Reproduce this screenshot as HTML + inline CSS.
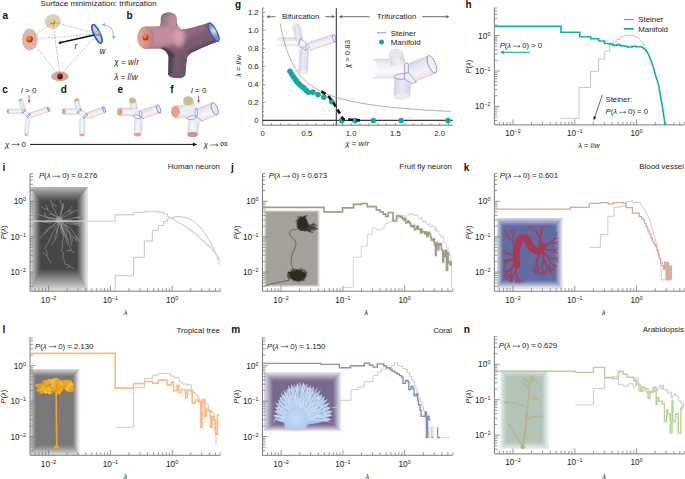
<!DOCTYPE html>
<html><head><meta charset="utf-8"><style>
html,body{margin:0;padding:0;background:#fff;width:685px;height:479px;overflow:hidden}
svg{display:block}
text{font-family:"Liberation Sans",sans-serif}
</style></head><body>
<svg xmlns="http://www.w3.org/2000/svg" width="685" height="479" viewBox="0 0 685 479">
<defs><radialGradient id="q1" gradientUnits="userSpaceOnUse" cx="52.2" cy="21" r="3"><stop offset="0" stop-color="#fff27a"/><stop offset="0.5" stop-color="#f2c21c"/><stop offset="1" stop-color="#c87814"/></radialGradient><radialGradient id="q2" gradientUnits="userSpaceOnUse" cx="28.8" cy="38.3" r="3.8"><stop offset="0" stop-color="#ffa040"/><stop offset="0.55" stop-color="#e6601a"/><stop offset="1" stop-color="#a83208"/></radialGradient><radialGradient id="q3" gradientUnits="userSpaceOnUse" cx="59.3" cy="75.6" r="3.2"><stop offset="0" stop-color="#b03a2a"/><stop offset="0.6" stop-color="#7a1410"/><stop offset="1" stop-color="#4a0606"/></radialGradient><radialGradient id="q4" gradientUnits="userSpaceOnUse" cx="97.5" cy="33.5" r="4.5"><stop offset="0" stop-color="#e8d8c8"/><stop offset="0.5" stop-color="#b8c0d8"/><stop offset="1" stop-color="#9aaad0"/></radialGradient><radialGradient id="q5" gradientUnits="userSpaceOnUse" cx="97.2" cy="32.6" r="3.2"><stop offset="0" stop-color="#f0d0b0"/><stop offset="0.5" stop-color="#c0a0a8"/><stop offset="1" stop-color="#7890c8"/></radialGradient><clipPath id="bclip"><path d="M145.7 26.8 L159.5 26.6 C161 25 160.8 21 160.8 18 C160.8 14.5 164.5 12.4 168.8 12.4 C173 12.4 176.5 14.5 176.5 18 C176.5 22 177 25.5 180 28.5 C184 30.5 192 28 208.6 22.8 L218.5 41.2 C210 44 199 49 191 53 C187.5 55.5 186.8 58 186.6 61 L185.2 75.4 C183 78.8 171 79.2 168.2 74.8 L168.6 58 C168 53 165 49.5 160 48.6 L145.7 48.6 Z"/></clipPath><filter id="bblur" x="-20%" y="-20%" width="140%" height="140%"><feGaussianBlur stdDeviation="2.2"/></filter><filter id="bblur2" x="-20%" y="-20%" width="140%" height="140%"><feGaussianBlur stdDeviation="1.2"/></filter><linearGradient id="q6" gradientUnits="userSpaceOnUse" x1="137.7" y1="0" x2="153.8" y2="0"><stop offset="0" stop-color="#e6aa98"/><stop offset="0.5" stop-color="#d59488"/><stop offset="1" stop-color="#bc7c7e"/></linearGradient><radialGradient id="q7" gradientUnits="userSpaceOnUse" cx="144.8" cy="36.4" r="3.6"><stop offset="0" stop-color="#ff9a40"/><stop offset="0.55" stop-color="#e45a18"/><stop offset="1" stop-color="#a83008"/></radialGradient><radialGradient id="q8" gradientUnits="userSpaceOnUse" cx="214.5" cy="31" r="6"><stop offset="0" stop-color="#f0e4dc"/><stop offset="0.35" stop-color="#bcc6de"/><stop offset="1" stop-color="#8292c4"/></radialGradient><linearGradient id="q9" gradientUnits="userSpaceOnUse" x1="18.48" y1="100.38" x2="22.52" y2="99.22"><stop offset="0" stop-color="#d8d8e2"/><stop offset="0.5" stop-color="#f2f2f6"/><stop offset="1" stop-color="#d4d4de"/></linearGradient><linearGradient id="q10" gradientUnits="userSpaceOnUse" x1="7.97" y1="113.5" x2="8.03" y2="108.9"><stop offset="0" stop-color="#d9d9ea"/><stop offset="0.4" stop-color="#f5f5fa"/><stop offset="0.7" stop-color="#ededf6"/><stop offset="1" stop-color="#d4d4e8"/></linearGradient><linearGradient id="q11" gradientUnits="userSpaceOnUse" x1="29.92" y1="117.88" x2="28.48" y2="113.52"><stop offset="0" stop-color="#ece4ec"/><stop offset="0.4" stop-color="#f7f3f7"/><stop offset="1" stop-color="#e2dae6"/></linearGradient><linearGradient id="q12" gradientUnits="userSpaceOnUse" x1="26.01" y1="117.33" x2="29.79" y2="117.67"><stop offset="0" stop-color="#d9d9ea"/><stop offset="0.4" stop-color="#f5f5fa"/><stop offset="0.7" stop-color="#ededf6"/><stop offset="1" stop-color="#d4d4e8"/></linearGradient><linearGradient id="q13" gradientUnits="userSpaceOnUse" x1="22.31" y1="112.73" x2="24.89" y2="109.67"><stop offset="0" stop-color="#f6f6fa"/><stop offset="1" stop-color="#f0f0f6"/></linearGradient><linearGradient id="q14" gradientUnits="userSpaceOnUse" x1="74.05" y1="100.39" x2="78.95" y2="99.41"><stop offset="0" stop-color="#d8d8e2"/><stop offset="0.5" stop-color="#f2f2f6"/><stop offset="1" stop-color="#d4d4de"/></linearGradient><linearGradient id="q15" gradientUnits="userSpaceOnUse" x1="63.8" y1="114.5" x2="63.8" y2="108.5"><stop offset="0" stop-color="#d9d9ea"/><stop offset="0.4" stop-color="#f5f5fa"/><stop offset="0.7" stop-color="#ededf6"/><stop offset="1" stop-color="#d4d4e8"/></linearGradient><linearGradient id="q16" gradientUnits="userSpaceOnUse" x1="87.04" y1="119.11" x2="84.96" y2="113.49"><stop offset="0" stop-color="#ece4ec"/><stop offset="0.4" stop-color="#f7f3f7"/><stop offset="1" stop-color="#e2dae6"/></linearGradient><linearGradient id="q17" gradientUnits="userSpaceOnUse" x1="79.8" y1="118.54" x2="85" y2="118.66"><stop offset="0" stop-color="#d9d9ea"/><stop offset="0.4" stop-color="#f5f5fa"/><stop offset="0.7" stop-color="#ededf6"/><stop offset="1" stop-color="#d4d4e8"/></linearGradient><linearGradient id="q18" gradientUnits="userSpaceOnUse" x1="77.31" y1="113.11" x2="80.69" y2="108.89"><stop offset="0" stop-color="#f6f6fa"/><stop offset="1" stop-color="#f0f0f6"/></linearGradient><linearGradient id="q19" gradientUnits="userSpaceOnUse" x1="129.27" y1="101.18" x2="135.73" y2="99.82"><stop offset="0" stop-color="#d8d8e2"/><stop offset="0.5" stop-color="#f2f2f6"/><stop offset="1" stop-color="#d4d4de"/></linearGradient><linearGradient id="q20" gradientUnits="userSpaceOnUse" x1="119.76" y1="115.7" x2="119.84" y2="107.9"><stop offset="0" stop-color="#d9d9ea"/><stop offset="0.4" stop-color="#f5f5fa"/><stop offset="0.7" stop-color="#ededf6"/><stop offset="1" stop-color="#d4d4e8"/></linearGradient><linearGradient id="q21" gradientUnits="userSpaceOnUse" x1="134.61" y1="116.28" x2="142.59" y2="116.72"><stop offset="0" stop-color="#d9d9ea"/><stop offset="0.4" stop-color="#f5f5fa"/><stop offset="0.7" stop-color="#ededf6"/><stop offset="1" stop-color="#d4d4e8"/></linearGradient><linearGradient id="q22" gradientUnits="userSpaceOnUse" x1="143.02" y1="118.59" x2="140.38" y2="110.61"><stop offset="0" stop-color="#ece4ec"/><stop offset="0.4" stop-color="#f7f3f7"/><stop offset="1" stop-color="#e2dae6"/></linearGradient><linearGradient id="q23" gradientUnits="userSpaceOnUse" x1="183.35" y1="102.01" x2="193.05" y2="99.59"><stop offset="0" stop-color="#d8d8e2"/><stop offset="0.5" stop-color="#f2f2f6"/><stop offset="1" stop-color="#d4d4de"/></linearGradient><linearGradient id="q24" gradientUnits="userSpaceOnUse" x1="175.44" y1="118" x2="175.56" y2="105.6"><stop offset="0" stop-color="#d9d9ea"/><stop offset="0.4" stop-color="#f5f5fa"/><stop offset="0.7" stop-color="#ededf6"/><stop offset="1" stop-color="#d4d4e8"/></linearGradient><linearGradient id="q25" gradientUnits="userSpaceOnUse" x1="188.63" y1="120.43" x2="199.37" y2="121.57"><stop offset="0" stop-color="#d9d9ea"/><stop offset="0.4" stop-color="#f5f5fa"/><stop offset="0.7" stop-color="#ededf6"/><stop offset="1" stop-color="#d4d4e8"/></linearGradient><linearGradient id="q26" gradientUnits="userSpaceOnUse" x1="201.8" y1="121.21" x2="196.8" y2="108.99"><stop offset="0" stop-color="#ece4ec"/><stop offset="0.4" stop-color="#f7f3f7"/><stop offset="1" stop-color="#e2dae6"/></linearGradient><linearGradient id="q27" gradientUnits="userSpaceOnUse" x1="275.47" y1="45.8" x2="275.53" y2="37.4"><stop offset="0" stop-color="#e2e2ec"/><stop offset="0.4" stop-color="#fafafc"/><stop offset="1" stop-color="#d8d8e6"/></linearGradient><linearGradient id="q28" gradientUnits="userSpaceOnUse" x1="274" y1="0" x2="283" y2="0"><stop offset="0" stop-color="#ffffff" stop-opacity="1"/><stop offset="1" stop-color="#ffffff" stop-opacity="0"/></linearGradient><linearGradient id="q29" gradientUnits="userSpaceOnUse" x1="292.87" y1="26.29" x2="299.73" y2="24.91"><stop offset="0" stop-color="#d6d6de"/><stop offset="0.5" stop-color="#eeeef2"/><stop offset="1" stop-color="#d2d2dc"/></linearGradient><linearGradient id="q30" gradientUnits="userSpaceOnUse" x1="299.9" y1="48.79" x2="308.7" y2="49.21"><stop offset="0" stop-color="#cfcfe4"/><stop offset="0.45" stop-color="#ececf6"/><stop offset="1" stop-color="#d6d6e8"/></linearGradient><linearGradient id="q31" gradientUnits="userSpaceOnUse" x1="309.73" y1="50.5" x2="307.27" y2="43.1"><stop offset="0" stop-color="#e6e6ee"/><stop offset="0.4" stop-color="#f6f6fa"/><stop offset="1" stop-color="#dcdce8"/></linearGradient><linearGradient id="q32" gradientUnits="userSpaceOnUse" x1="372" y1="78.3" x2="372" y2="59.1"><stop offset="0" stop-color="#e4e4ee"/><stop offset="0.35" stop-color="#fbfbfd"/><stop offset="0.7" stop-color="#f0f0f6"/><stop offset="1" stop-color="#dedeea"/></linearGradient><linearGradient id="q33" gradientUnits="userSpaceOnUse" x1="388.73" y1="55" x2="402.27" y2="51.4"><stop offset="0" stop-color="#dcdce4"/><stop offset="0.5" stop-color="#f2f2f6"/><stop offset="1" stop-color="#d6d6e0"/></linearGradient><linearGradient id="q34" gradientUnits="userSpaceOnUse" x1="394.6" y1="78.73" x2="410.6" y2="79.27"><stop offset="0" stop-color="#d0d0e6"/><stop offset="0.45" stop-color="#ebebf5"/><stop offset="1" stop-color="#d4d4e8"/></linearGradient><linearGradient id="q35" gradientUnits="userSpaceOnUse" x1="412.46" y1="82.24" x2="405.54" y2="64.76"><stop offset="0" stop-color="#e8e4ee"/><stop offset="0.4" stop-color="#f4f2f8"/><stop offset="1" stop-color="#ddd8e8"/></linearGradient><linearGradient id="g38_0" x1="0" y1="0" x2="0" y2="1"><stop offset="0" stop-color="#b4b4b4" stop-opacity="1"/><stop offset="1" stop-color="#464646"/></linearGradient><linearGradient id="g38_1" x1="1" y1="0" x2="0" y2="0"><stop offset="0" stop-color="#f4f4f4" stop-opacity="1"/><stop offset="1" stop-color="#464646"/></linearGradient><linearGradient id="g38_2" x1="0" y1="1" x2="0" y2="0"><stop offset="0" stop-color="#e4e4e4" stop-opacity="1"/><stop offset="1" stop-color="#464646"/></linearGradient><linearGradient id="g38_3" x1="0" y1="0" x2="1" y2="0"><stop offset="0" stop-color="#dcdcdc" stop-opacity="1"/><stop offset="1" stop-color="#464646"/></linearGradient><linearGradient id="g42_0" x1="0" y1="0" x2="0" y2="1"><stop offset="0" stop-color="#f4f4f2" stop-opacity="1"/><stop offset="1" stop-color="#a3a199"/></linearGradient><linearGradient id="g42_1" x1="1" y1="0" x2="0" y2="0"><stop offset="0" stop-color="#f4f4f2" stop-opacity="1"/><stop offset="1" stop-color="#a3a199"/></linearGradient><linearGradient id="g42_2" x1="0" y1="1" x2="0" y2="0"><stop offset="0" stop-color="#f4f4f2" stop-opacity="1"/><stop offset="1" stop-color="#a3a199"/></linearGradient><linearGradient id="g42_3" x1="0" y1="0" x2="1" y2="0"><stop offset="0" stop-color="#f4f4f2" stop-opacity="1"/><stop offset="1" stop-color="#a3a199"/></linearGradient><linearGradient id="g46_0" x1="0" y1="0" x2="0" y2="1"><stop offset="0" stop-color="#d4d8ee" stop-opacity="1"/><stop offset="1" stop-color="#606ca2"/></linearGradient><linearGradient id="g46_1" x1="1" y1="0" x2="0" y2="0"><stop offset="0" stop-color="#f6f6fc" stop-opacity="1"/><stop offset="1" stop-color="#606ca2"/></linearGradient><linearGradient id="g46_2" x1="0" y1="1" x2="0" y2="0"><stop offset="0" stop-color="#eef0f8" stop-opacity="1"/><stop offset="1" stop-color="#606ca2"/></linearGradient><linearGradient id="g46_3" x1="0" y1="0" x2="1" y2="0"><stop offset="0" stop-color="#d8dcf0" stop-opacity="1"/><stop offset="1" stop-color="#606ca2"/></linearGradient><linearGradient id="g50_0" x1="0" y1="0" x2="0" y2="1"><stop offset="0" stop-color="#cfcfcf" stop-opacity="1"/><stop offset="1" stop-color="#7a7879"/></linearGradient><linearGradient id="g50_1" x1="1" y1="0" x2="0" y2="0"><stop offset="0" stop-color="#f6f6f6" stop-opacity="1"/><stop offset="1" stop-color="#7a7879"/></linearGradient><linearGradient id="g50_2" x1="0" y1="1" x2="0" y2="0"><stop offset="0" stop-color="#e0e0e0" stop-opacity="1"/><stop offset="1" stop-color="#7a7879"/></linearGradient><linearGradient id="g50_3" x1="0" y1="0" x2="1" y2="0"><stop offset="0" stop-color="#d8d8d8" stop-opacity="1"/><stop offset="1" stop-color="#7a7879"/></linearGradient><linearGradient id="g54_0" x1="0" y1="0" x2="0" y2="1"><stop offset="0" stop-color="#e4e0ea" stop-opacity="1"/><stop offset="1" stop-color="#786a8c"/></linearGradient><linearGradient id="g54_1" x1="1" y1="0" x2="0" y2="0"><stop offset="0" stop-color="#f4f2f6" stop-opacity="1"/><stop offset="1" stop-color="#786a8c"/></linearGradient><linearGradient id="g54_2" x1="0" y1="1" x2="0" y2="0"><stop offset="0" stop-color="#eeecf2" stop-opacity="1"/><stop offset="1" stop-color="#786a8c"/></linearGradient><linearGradient id="g54_3" x1="0" y1="0" x2="1" y2="0"><stop offset="0" stop-color="#e4e0ea" stop-opacity="1"/><stop offset="1" stop-color="#786a8c"/></linearGradient><linearGradient id="g58_0" x1="0" y1="0" x2="0" y2="1"><stop offset="0" stop-color="#e2eae4" stop-opacity="1"/><stop offset="1" stop-color="#b4c4b8"/></linearGradient><linearGradient id="g58_1" x1="1" y1="0" x2="0" y2="0"><stop offset="0" stop-color="#f4f8f5" stop-opacity="1"/><stop offset="1" stop-color="#b4c4b8"/></linearGradient><linearGradient id="g58_2" x1="0" y1="1" x2="0" y2="0"><stop offset="0" stop-color="#eef2ef" stop-opacity="1"/><stop offset="1" stop-color="#b4c4b8"/></linearGradient><linearGradient id="g58_3" x1="0" y1="0" x2="1" y2="0"><stop offset="0" stop-color="#e4ece6" stop-opacity="1"/><stop offset="1" stop-color="#b4c4b8"/></linearGradient><radialGradient id="q36" gradientUnits="userSpaceOnUse" cx="59.2" cy="220" r="4.5"><stop offset="0" stop-color="#a8a8a8"/><stop offset="0.7" stop-color="#8e8e8e"/><stop offset="1" stop-color="#6a6a6a" stop-opacity="0"/></radialGradient><clipPath id="fanclip"><path d="M273.34 423.55 L275.05 421.36 L273.73 419.38 L275.7 417.52 L273.14 415.14 L278.99 414.52 L274.27 411.19 L277.57 410.43 L274.89 407.11 L278.49 407.01 L275.2 402.67 L279.2 403.38 L278.32 400.36 L279.9 399.5 L279.85 396.93 L282.31 397.34 L280.57 392.19 L285.1 396.17 L282.97 389.51 L286.66 393.18 L286.39 389.11 L288.32 389.88 L288.06 384.67 L291.34 390.22 L291.04 383.55 L293.58 388.29 L294.18 383.68 L296.27 388.76 L297.07 383.05 L298.66 385.94 L300 381.55 L301.61 386.66 L303.64 382.44 L304.97 385.95 L307.11 383.72 L307.75 388.66 L310.41 385.33 L310.94 389.21 L314.09 385.88 L313.2 392.14 L317.8 386.95 L315.74 394.1 L320.85 389.44 L318.59 395.66 L322 394.24 L321.37 397.61 L325.28 396.33 L322.65 401.09 L327.98 399.27 L323.35 404.74 L330.41 402.61 L326.29 407.01 L330.85 407.04 L327.56 410.38 L332.34 410.94 L329.64 413.67 L332.12 415.25 L326.81 417.77 L331.74 419.39 L326.5 421.18 L333.42 423.64 L328 421 L312 424 L298 426 L284 423 L274 419Z"/></clipPath><radialGradient id="q37" gradientUnits="userSpaceOnUse" cx="296" cy="418" r="12"><stop offset="0" stop-color="#c6dcf6"/><stop offset="1" stop-color="#b2cbec"/></radialGradient></defs>
<text x="40.6" y="6.2" font-size="8" fill="#222222" >Surface minimization: trifurcation</text>
<text x="2.6" y="19.2" font-size="10" fill="#111" font-weight="bold" >a</text>
<text x="126.6" y="18.8" font-size="10" fill="#111" font-weight="bold" >b</text>
<text x="2.2" y="92.6" font-size="10" fill="#111" font-weight="bold" >c</text>
<text x="60.8" y="92.6" font-size="10" fill="#111" font-weight="bold" >d</text>
<text x="117.5" y="92.6" font-size="10" fill="#111" font-weight="bold" >e</text>
<text x="170.3" y="92.6" font-size="10" fill="#111" font-weight="bold" >f</text>
<text x="235" y="8.4" font-size="10" fill="#111" font-weight="bold" >g</text>
<text x="465.6" y="7.9" font-size="10" fill="#111" font-weight="bold" >h</text>
<text x="2.6" y="170.7" font-size="10" fill="#111" font-weight="bold" >i</text>
<text x="231.1" y="170.7" font-size="10" fill="#111" font-weight="bold" >j</text>
<text x="463.8" y="171" font-size="10" fill="#111" font-weight="bold" >k</text>
<text x="2.6" y="333" font-size="10" fill="#111" font-weight="bold" >l</text>
<text x="231.3" y="333" font-size="10" fill="#111" font-weight="bold" >m</text>
<text x="463.8" y="332.6" font-size="10" fill="#111" font-weight="bold" >n</text>
<ellipse cx="52.9" cy="21.6" rx="7.9" ry="7.4" fill="#dccfb4" />
<ellipse cx="29.8" cy="39.5" rx="7.9" ry="10.9" fill="#e2b6a6" />
<ellipse cx="59.9" cy="76.4" rx="8.8" ry="4.9" fill="#d0a89c" />
<path d="M52.9 21.8L29.7 39.4M52.9 21.8L97 33.9M52.9 21.8L60 76.3M29.7 39.4L97 33.9M29.7 39.4L60 76.3M97 33.9L60 76.3" stroke="#8c8c8c" stroke-width="0.6" stroke-dasharray="1.8 1.3" fill="none"/>
<circle cx="52.9" cy="21.9" r="2.5" fill="url(#q1)"/>
<circle cx="29.6" cy="39.3" r="3.2" fill="url(#q2)"/>
<circle cx="60" cy="76.4" r="2.8" fill="url(#q3)"/>
<ellipse cx="97" cy="33.9" rx="3" ry="10.2" fill="#c8d0e4" stroke="#2f5cb0" stroke-width="1.5" transform="rotate(-25 97 33.9)" />
<circle cx="97.6" cy="33.4" r="2.7" fill="url(#q5)"/>
<path d="M59.9 42.7L94.3 35.1" stroke="#111" stroke-width="1.5"/>
<circle cx="59.9" cy="42.7" r="1.2" fill="#111"/>
<text x="74.6" y="49.4" font-size="8.2" fill="#222" font-style="italic" >r</text>
<text x="99.6" y="53.6" font-size="8.2" fill="#222" font-style="italic" >w</text>
<path d="M104 24.8 Q113.5 25.5 113.6 36.5" stroke="#86b2e0" stroke-width="0.9" fill="none"/>
<path d="M101.8 24.6 L105.2 22.8 L104.8 26.6 Z" fill="#86b2e0"/>
<path d="M113.8 39.6 L111.8 36.2 L115.6 36.3 Z" fill="#86b2e0"/>
<text x="114.2" y="65.2" font-size="8.2" fill="#222222" ><tspan font-style="italic">χ</tspan> = <tspan font-style="italic">w</tspan>/<tspan font-style="italic">r</tspan></text>
<text x="114.2" y="79.7" font-size="8.2" fill="#222222" ><tspan font-style="italic">λ</tspan> = <tspan font-style="italic">l</tspan>/<tspan font-style="italic">w</tspan></text>
<path d="M145.7 26.8 L159.5 26.6 C161 25 160.8 21 160.8 18 C160.8 14.5 164.5 12.4 168.8 12.4 C173 12.4 176.5 14.5 176.5 18 C176.5 22 177 25.5 180 28.5 C184 30.5 192 28 208.6 22.8 L218.5 41.2 C210 44 199 49 191 53 C187.5 55.5 186.8 58 186.6 61 L185.2 75.4 C183 78.8 171 79.2 168.2 74.8 L168.6 58 C168 53 165 49.5 160 48.6 L145.7 48.6 Z" fill="#7a5b72"/>
<g clip-path="url(#bclip)"><g filter="url(#bblur)"><rect x="140" y="25" width="32" height="21" fill="#c28c9a"/><rect x="140" y="46" width="24" height="4" fill="#a87888"/><path d="M160 14 L169 14 L170 27 L160 27 Z" fill="#9c7688"/><path d="M169 12 L178 14 L179 28 L169 27 Z" fill="#c0909e"/><ellipse cx="178.5" cy="37" rx="6.5" ry="10" fill="#d49eae"/><ellipse cx="168" cy="31" rx="5" ry="6" fill="#c08e9e"/><path d="M183 29 L205 23 L207 30 L186 38 Z" fill="#93688a"/><path d="M188 52 L216 40 L220 47 L192 60 Z" fill="#4a3c5a"/><path d="M164 56 L173 56 L172 80 L163 80 Z" fill="#463e56"/><path d="M180 56 L189 56 L188 80 L181 80 Z" fill="#6c5468"/></g><g filter="url(#bblur2)"><path d="M159 49.5 C164 50 168 53 171 58 L175 57 C172 52 168 49 164 47.5 Z" fill="#43344f"/></g></g>
<ellipse cx="168.8" cy="19.2" rx="5" ry="3.2" fill="#b09090" opacity="0.35"/>
<circle cx="169.5" cy="20" r="2.2" fill="#c09078" opacity="0.5"/>
<ellipse cx="176.5" cy="75.4" rx="7.5" ry="2.8" fill="#6e5468" transform="rotate(3 176.5 75.4)" opacity="0.7"/>
<circle cx="176" cy="75.4" r="1.6" fill="#8a6070" opacity="0.5"/>
<ellipse cx="145.7" cy="37.7" rx="8" ry="10.9" fill="url(#q6)" />
<ellipse cx="145.7" cy="37.7" rx="8" ry="10.9" fill="none" stroke="#b87478" stroke-width="0.6" />
<circle cx="145.5" cy="37.4" r="3" fill="url(#q7)"/>
<ellipse cx="213.6" cy="32" rx="3.1" ry="10.2" fill="url(#q8)" stroke="#2f5cb0" stroke-width="1.1" transform="rotate(-28 213.6 32)" />
<polygon points="18.48,100.38 21.58,111.08 25.62,109.92 22.52,99.22" fill="url(#q9)"/>
<path d="M18.48 100.38L21.58 111.08M22.52 99.22L25.62 109.92" stroke="#c9c9da" stroke-width="0.4" fill="none"/>
<ellipse cx="20.5" cy="99.9" rx="2.1" ry="1.4" fill="#c9bc8c" transform="rotate(-15 20.5 99.9)" />
<polygon points="7.97,113.5 22.97,113.7 23.03,109.1 8.03,108.9" fill="url(#q10)"/>
<path d="M7.97 113.5L22.97 113.7M8.03 108.9L23.03 109.1" stroke="#c9c9da" stroke-width="0.4" fill="none"/>
<ellipse cx="8" cy="111.2" rx="1.2" ry="2.3" fill="#e3a488" />
<polygon points="29.92,117.88 49.32,111.48 47.88,107.12 28.48,113.52" fill="url(#q11)"/>
<path d="M29.92 117.88L49.32 111.48M28.48 113.52L47.88 107.12" stroke="#e89a86" stroke-width="0.45" fill="none"/>
<ellipse cx="48.6" cy="109.3" rx="0.9" ry="2.3" fill="#dde2f2" stroke="#4c64bc" stroke-width="0.6" transform="rotate(-18 48.6 109.3)" />
<polygon points="26.01,117.33 24.41,134.73 28.19,135.07 29.79,117.67" fill="url(#q12)"/>
<path d="M26.01 117.33L24.41 134.73M29.79 117.67L28.19 135.07" stroke="#c9c9da" stroke-width="0.4" fill="none"/>
<ellipse cx="26.3" cy="134.9" rx="1.9" ry="0.9" fill="#e3a488" />
<polygon points="22.31,112.73 27.51,117.13 30.09,114.07 24.89,109.67" fill="url(#q13)"/>
<path d="M22.31 112.73L27.51 117.13M24.89 109.67L30.09 114.07" stroke="#e89a86" stroke-width="0.45" fill="none"/>
<ellipse cx="23.7" cy="111.3" rx="0.9" ry="2.1" fill="none" stroke="#4c64bc" stroke-width="0.6" transform="rotate(40 23.7 111.3)" />
<ellipse cx="28.6" cy="115.6" rx="0.9" ry="2.2" fill="none" stroke="#4c64bc" stroke-width="0.6" transform="rotate(40 28.6 115.6)" />
<path d="M29.1 95.5L29.1 100.9" stroke="#c8544a" stroke-width="0.9" fill="none"/>
<path d="M29.1 103.6L27.6 100.4L30.6 100.4Z" fill="#c8544a"/>
<text x="21" y="93.2" font-size="8" fill="#222222" ><tspan font-style="italic">l</tspan> &gt; 0</text>
<polygon points="74.05,100.39 76.15,110.99 81.05,110.01 78.95,99.41" fill="url(#q14)"/>
<path d="M74.05 100.39L76.15 110.99M78.95 99.41L81.05 110.01" stroke="#c9c9da" stroke-width="0.4" fill="none"/>
<ellipse cx="76.5" cy="99.9" rx="2.5" ry="1.8" fill="#c9bc8c" transform="rotate(-10 76.5 99.9)" />
<polygon points="63.8,114.5 78,114.5 78,108.5 63.8,108.5" fill="url(#q15)"/>
<path d="M63.8 114.5L78 114.5M63.8 108.5L78 108.5" stroke="#c9c9da" stroke-width="0.4" fill="none"/>
<ellipse cx="63.8" cy="111.5" rx="1.8" ry="3" fill="#e3a488" />
<polygon points="87.04,119.11 105.14,112.41 103.06,106.79 84.96,113.49" fill="url(#q16)"/>
<path d="M87.04 119.11L105.14 112.41M84.96 113.49L103.06 106.79" stroke="#e89a86" stroke-width="0.45" fill="none"/>
<ellipse cx="104.1" cy="109.6" rx="1.2" ry="3" fill="#dde2f2" stroke="#4c64bc" stroke-width="0.6" transform="rotate(-20 104.1 109.6)" />
<polygon points="79.8,118.54 79.4,134.84 84.6,134.96 85,118.66" fill="url(#q17)"/>
<path d="M79.8 118.54L79.4 134.84M85 118.66L84.6 134.96" stroke="#c9c9da" stroke-width="0.4" fill="none"/>
<ellipse cx="82" cy="134.9" rx="2.6" ry="1.2" fill="#e3a488" />
<polygon points="77.31,113.11 83.91,118.41 87.29,114.19 80.69,108.89" fill="url(#q18)"/>
<path d="M77.31 113.11L83.91 118.41M80.69 108.89L87.29 114.19" stroke="#e89a86" stroke-width="0.45" fill="none"/>
<ellipse cx="79.2" cy="111.1" rx="1" ry="2.7" fill="none" stroke="#4c64bc" stroke-width="0.6" transform="rotate(40 79.2 111.1)" />
<ellipse cx="85.4" cy="116.2" rx="1" ry="2.8" fill="none" stroke="#4c64bc" stroke-width="0.6" transform="rotate(40 85.4 116.2)" />
<polygon points="129.27,101.18 131.37,111.18 137.83,109.82 135.73,99.82" fill="url(#q19)"/>
<path d="M129.27 101.18L131.37 111.18M135.73 99.82L137.83 109.82" stroke="#c9c9da" stroke-width="0.4" fill="none"/>
<ellipse cx="132.5" cy="100.5" rx="3.3" ry="3" fill="#c9bc8c" />
<polygon points="119.76,115.7 137.46,115.9 137.54,108.1 119.84,107.9" fill="url(#q20)"/>
<path d="M119.76 115.7L137.46 115.9M119.84 107.9L137.54 108.1" stroke="#c9c9da" stroke-width="0.4" fill="none"/>
<ellipse cx="119.8" cy="111.8" rx="2.8" ry="3.9" fill="#e3a488" />
<polygon points="134.61,116.28 133.91,134.4 141.29,134.8 142.59,116.72" fill="url(#q21)"/>
<path d="M134.61 116.28L133.91 134.4M142.59 116.72L141.29 134.8" stroke="#c9c9da" stroke-width="0.4" fill="none"/>
<ellipse cx="137.6" cy="134.6" rx="3.7" ry="1.8" fill="#e3a488" />
<polygon points="143.02,118.59 159.92,112.99 157.28,105.01 140.38,110.61" fill="url(#q22)"/>
<path d="M143.02 118.59L159.92 112.99M140.38 110.61L157.28 105.01" stroke="#e89a86" stroke-width="0.45" fill="none"/>
<ellipse cx="158.6" cy="109" rx="1.8" ry="4.3" fill="#e6e8f4" stroke="#4c64bc" stroke-width="0.6" transform="rotate(-20 158.6 109)" />
<path d="M134.5 107.8 L136.4 109.5 L139.6 110.4 L144 118.6 L142.4 120.5 L134.8 120.5 L133 116 Z" fill="#ececf5"/>
<path d="M139.6 110.6 C138.6 112.5 139 116 141 117.5 C142.5 116 142.4 112 139.6 110.6 Z M133 116 C135 114.4 139.5 114.6 141 117.5 C139 119.6 134.5 118.6 133 116 Z M141 117.5 L144 118.6" fill="#f2f2f8" stroke="#4c64bc" stroke-width="0.5"/>
<polygon points="183.35,102.01 184.65,107.21 194.35,104.79 193.05,99.59" fill="url(#q23)"/>
<path d="M183.35 102.01L184.65 107.21M193.05 99.59L194.35 104.79" stroke="#c9c9da" stroke-width="0.4" fill="none"/>
<ellipse cx="188.2" cy="100.8" rx="5" ry="4.6" fill="#c9bc8c" />
<polygon points="175.44,118 195.44,118.2 195.56,105.8 175.56,105.6" fill="url(#q24)"/>
<path d="M175.44 118L195.44 118.2M175.56 105.6L195.56 105.8" stroke="#c9c9da" stroke-width="0.4" fill="none"/>
<ellipse cx="175.5" cy="111.8" rx="4.4" ry="6.1" fill="#e3a488" />
<polygon points="188.63,120.43 187.43,133.76 197.77,134.84 199.37,121.57" fill="url(#q25)"/>
<path d="M188.63 120.43L187.43 133.76M199.37 121.57L197.77 134.84" stroke="#c9c9da" stroke-width="0.4" fill="none"/>
<ellipse cx="192.6" cy="134.4" rx="5.2" ry="2.6" fill="#cd968c" />
<polygon points="201.8,121.21 217.2,114.91 212.2,102.69 196.8,108.99" fill="url(#q26)"/>
<path d="M201.8 121.21L217.2 114.91M196.8 108.99L212.2 102.69" stroke="#e89a86" stroke-width="0.45" fill="none"/>
<ellipse cx="214.7" cy="108.8" rx="2.9" ry="6.4" fill="#e4eaf4" stroke="#4c64bc" stroke-width="0.6" transform="rotate(-22 214.7 108.8)" />
<path d="M183.3 105.6 L193.6 105.4 L196.8 109 L201.8 121.2 L199.4 122.5 L188.6 120.5 L187 117.9 Z" fill="#ececf5"/>
<path d="M196.3 108 C194.6 110.5 194.6 115 196.8 116.8 C198 114.5 198 110.5 196.3 108 Z M186.7 118.5 C188.5 115.5 194.5 115 196.8 116.8 C195 119.6 189.5 120.5 186.7 118.5 Z M196.8 116.8 L202.8 121.6" fill="#f0f0f8" stroke="#4c64bc" stroke-width="0.5"/>
<path d="M198.5 95.6L198.5 100.7" stroke="#c8544a" stroke-width="0.9" fill="none"/>
<path d="M198.5 103.4L197 100.2L200 100.2Z" fill="#c8544a"/>
<text x="191" y="92.6" font-size="8" fill="#222222" ><tspan font-style="italic">l</tspan> = 0</text>
<text x="5" y="146.6" font-size="8" fill="#222222" font-style="italic" >χ</text>
<path d="M11.6 144.44H19.2M17.5 143.24L19.2 144.44L17.5 145.64" stroke="#222222" stroke-width="0.6" fill="none"/>
<text x="21.6" y="146.6" font-size="8" fill="#222222" >0</text>
<text x="203.7" y="147.2" font-size="8" fill="#222222" font-style="italic" >χ</text>
<path d="M210.3 145.04H217.9M216.2 143.84L217.9 145.04L216.2 146.24" stroke="#222222" stroke-width="0.6" fill="none"/>
<text x="220.3" y="147.2" font-size="8" fill="#222222" ><tspan font-size="10.5">∞</tspan></text>
<path d="M30.2 144.4L193.4 144.4" stroke="#111" stroke-width="1.0" fill="none"/>
<path d="M197.3 144.4L192.9 146.2L192.9 142.6Z" fill="#111"/>
<polygon points="275.47,45.8 300.47,46 300.53,37.6 275.53,37.4" fill="url(#q27)"/>
<path d="M275.47 45.8L300.47 46M275.53 37.4L300.53 37.6" stroke="#c9c9da" stroke-width="0.4" fill="none"/>
<rect x="273" y="36" width="10" height="11" fill="url(#q28)"/>
<polygon points="292.87,26.29 295.77,40.69 302.63,39.31 299.73,24.91" fill="url(#q29)"/>
<path d="M292.87 26.29L295.77 40.69M299.73 24.91L302.63 39.31" stroke="#c9c9da" stroke-width="0.4" fill="none"/>
<ellipse cx="296.3" cy="25.6" rx="3.5" ry="2.2" fill="#e4e4ea" transform="rotate(-12 296.3 25.6)" />
<polygon points="299.9,48.79 298.8,72.29 307.6,72.71 308.7,49.21" fill="url(#q30)"/>
<path d="M299.9 48.79L298.8 72.29M308.7 49.21L307.6 72.71" stroke="#c9c9da" stroke-width="0.4" fill="none"/>
<ellipse cx="303.2" cy="72.5" rx="4.4" ry="2" fill="#eeeef4" />
<polygon points="309.73,50.5 335.53,41.9 333.07,34.5 307.27,43.1" fill="url(#q31)"/>
<path d="M309.73 50.5L335.53 41.9M307.27 43.1L333.07 34.5" stroke="#e8a090" stroke-width="0.5" fill="none"/>
<ellipse cx="334.3" cy="38.2" rx="1.6" ry="4" fill="#e8e8f2" stroke="#4a62b8" stroke-width="0.5" transform="rotate(-18 334.3 38.2)" />
<path d="M300.6 38.3 L306.5 43.6 L309.4 47.2 L305.8 50.2 L300.5 47.3 L298.6 44.5 Z" fill="#f2f2f8" stroke="#5a70c0" stroke-width="0.5"/>
<path d="M300.6 38.3 L298.8 44.3 M306.5 43.6 L305.6 50.2 M300.5 47.3 L306 47" stroke="#5a70c0" stroke-width="0.45" fill="none"/>
<polygon points="372,78.3 405,78.3 405,59.1 372,59.1" fill="url(#q32)"/>
<path d="M372 78.3L405 78.3M372 59.1L405 59.1" stroke="#c9c9da" stroke-width="0.4" fill="none"/>
<ellipse cx="372" cy="68.7" rx="5.2" ry="9.6" fill="#fcfcfe" />
<polygon points="388.73,55 391.73,66.3 405.27,62.7 402.27,51.4" fill="url(#q33)"/>
<path d="M388.73 55L391.73 66.3M402.27 51.4L405.27 62.7" stroke="#c9c9da" stroke-width="0.4" fill="none"/>
<ellipse cx="395.5" cy="53.2" rx="7" ry="4.6" fill="#e6e6ec" transform="rotate(-10 395.5 53.2)" />
<polygon points="394.6,78.73 394,96.53 410,97.07 410.6,79.27" fill="url(#q34)"/>
<path d="M394.6 78.73L394 96.53M410.6 79.27L410 97.07" stroke="#c9c9da" stroke-width="0.4" fill="none"/>
<ellipse cx="402" cy="96.8" rx="8" ry="3.3" fill="#ececf4" transform="rotate(-3 402 96.8)" />
<polygon points="412.46,82.24 435.46,73.14 428.54,55.66 405.54,64.76" fill="url(#q35)"/>
<path d="M412.46 82.24L435.46 73.14M405.54 64.76L428.54 55.66" stroke="#e3a08c" stroke-width="0.5" fill="none"/>
<ellipse cx="432" cy="64.4" rx="3.6" ry="9.4" fill="#f2f0f6" stroke="#4a62b8" stroke-width="0.55" transform="rotate(-22 432 64.4)" />
<path d="M394.3 76.8 L404.6 73.5 L404.6 63.5 L408.4 63.5 L416.5 82.1 L411.8 83.7 L404.6 79.2 Z" fill="#efeff7"/>
<path d="M404.6 78.9 L404.6 65 C404.6 62.6 408.4 62.6 408.4 65 L408.4 72.4 L404.6 73.5 C400 73.5 394.3 74.8 394.3 76.8 C394.3 79 400 79.6 404.6 78.9 L411.8 83.7 L416.5 82.1 L408.4 72.4" fill="none" stroke="#4f66bc" stroke-width="0.55"/>
<path d="M262.7 7.9V125.2H452.6" fill="none" stroke="#767676" stroke-width="1"/>
<path d="M262.7 120.45h2.5M262.7 115.95h1.5M262.7 111.45h1.5M262.7 106.95h1.5M262.7 102.45h2.5M262.7 97.95h1.5M262.7 93.45h1.5M262.7 88.95h1.5M262.7 84.45h2.5M262.7 79.95h1.5M262.7 75.45h1.5M262.7 70.95h1.5M262.7 66.45h2.5M262.7 61.95h1.5M262.7 57.45h1.5M262.7 52.95h1.5M262.7 48.45h2.5M262.7 43.95h1.5M262.7 39.45h1.5M262.7 34.95h1.5M262.7 30.45h2.5M262.7 25.95h1.5M262.7 21.45h1.5M262.7 16.95h1.5M262.7 12.45h2.5M262.7 7.95h1.5M271.55 125.2v-2.2M280.4 125.2v-2.2M289.25 125.2v-2.2M298.1 125.2v-2.2M306.95 125.2v-2.2M315.8 125.2v-2.2M324.65 125.2v-2.2M333.5 125.2v-2.2M342.35 125.2v-2.2M351.2 125.2v-2.2M360.05 125.2v-2.2M368.9 125.2v-2.2M377.75 125.2v-2.2M386.6 125.2v-2.2M395.45 125.2v-2.2M404.3 125.2v-2.2M413.15 125.2v-2.2M422 125.2v-2.2M430.85 125.2v-2.2M439.7 125.2v-2.2M448.55 125.2v-2.2" fill="none" stroke="#767676" stroke-width="0.7"/>
<text x="258.6" y="15.2" font-size="7.7" fill="#222222" text-anchor="end" >1.2</text>
<text x="258.6" y="33.2" font-size="7.7" fill="#222222" text-anchor="end" >1.0</text>
<text x="258.6" y="51.2" font-size="7.7" fill="#222222" text-anchor="end" >0.8</text>
<text x="258.6" y="69.2" font-size="7.7" fill="#222222" text-anchor="end" >0.6</text>
<text x="258.6" y="87.2" font-size="7.7" fill="#222222" text-anchor="end" >0.4</text>
<text x="258.6" y="105.2" font-size="7.7" fill="#222222" text-anchor="end" >0.2</text>
<text x="258.6" y="123.2" font-size="7.7" fill="#222222" text-anchor="end" >0</text>
<text x="262.7" y="135.6" font-size="7.7" fill="#222222" text-anchor="middle" >0</text>
<text x="306.95" y="135.6" font-size="7.7" fill="#222222" text-anchor="middle" >0.5</text>
<text x="351.2" y="135.6" font-size="7.7" fill="#222222" text-anchor="middle" >1.0</text>
<text x="395.45" y="135.6" font-size="7.7" fill="#222222" text-anchor="middle" >1.5</text>
<text x="439.7" y="135.6" font-size="7.7" fill="#222222" text-anchor="middle" >2.0</text>
<text x="0" y="0" font-size="7.9" fill="#222222" text-anchor="middle" transform="translate(241,66) rotate(-90)"><tspan font-style="italic">λ</tspan> = <tspan font-style="italic">l</tspan>/<tspan font-style="italic">w</tspan></text>
<text x="345.3" y="145.5" font-size="7.9" fill="#222222" ><tspan font-style="italic">χ</tspan> = <tspan font-style="italic">w</tspan>/<tspan font-style="italic">r</tspan></text>
<path d="M262.7 120.45H452.6" stroke="#3a3a3a" stroke-width="1.2"/>
<path d="M336.3 8V125.2" stroke="#3a3a3a" stroke-width="1.1"/>
<text x="0" y="0" font-size="7.8" fill="#222222" text-anchor="middle" transform="translate(349.6,54) rotate(-90)"><tspan font-style="italic">χ</tspan> ≈ 0.83</text>
<path d="M280.22 23.4 L281.11 28.07 L281.99 32.31 L282.88 36.17 L283.76 39.71 L284.65 42.97 L285.53 45.97 L286.42 48.75 L287.3 51.33 L288.19 53.73 L289.07 55.97 L289.96 58.06 L290.84 60.03 L291.73 61.87 L292.61 63.6 L293.5 65.23 L294.38 66.78 L295.27 68.24 L296.15 69.62 L297.04 70.93 L297.92 72.17 L298.81 73.35 L299.69 74.48 L300.58 75.56 L301.46 76.58 L302.35 77.56 L303.23 78.5 L304.12 79.39 L305 80.25 L305.89 81.08 L306.77 81.87 L307.66 82.63 L308.54 83.36 L309.43 84.06 L310.31 84.73 L311.2 85.39 L312.08 86.01 L312.97 86.62 L313.85 87.21 L314.74 87.77 L315.62 88.32 L316.51 88.85 L320.05 90.8 L323.59 92.52 L327.13 94.06 L330.67 95.43 L334.21 96.67 L337.75 97.79 L341.29 98.81 L344.83 99.74 L348.37 100.6 L351.91 101.39 L355.45 102.12 L358.99 102.79 L362.53 103.42 L366.07 104 L369.61 104.54 L373.15 105.05 L376.69 105.53 L380.23 105.98 L383.77 106.4 L387.31 106.8 L390.85 107.18 L394.39 107.54 L397.93 107.87 L401.47 108.2 L405.01 108.5 L408.55 108.79 L412.09 109.07 L415.63 109.33 L419.17 109.58 L422.71 109.82 L426.25 110.05 L429.79 110.27 L433.33 110.48 L436.87 110.69 L440.41 110.88 L443.95 111.07 L447.49 111.25 L451.03 111.42" fill="none" stroke="#8e8e8e" stroke-width="0.7"/>
<circle cx="290" cy="71.3" r="2.8" fill="#17a8a3"/>
<circle cx="291.6" cy="74" r="2.8" fill="#17a8a3"/>
<circle cx="293.3" cy="76.7" r="2.8" fill="#17a8a3"/>
<circle cx="295" cy="79" r="2.8" fill="#17a8a3"/>
<circle cx="296.7" cy="81.3" r="2.8" fill="#17a8a3"/>
<circle cx="298.3" cy="83.2" r="2.8" fill="#17a8a3"/>
<circle cx="300" cy="85" r="2.8" fill="#17a8a3"/>
<circle cx="302.1" cy="86.7" r="2.8" fill="#17a8a3"/>
<circle cx="304.2" cy="88.4" r="2.8" fill="#17a8a3"/>
<circle cx="306.3" cy="90.5" r="2.8" fill="#17a8a3"/>
<circle cx="308.4" cy="92.3" r="2.8" fill="#17a8a3"/>
<circle cx="313" cy="92.1" r="2.8" fill="#17a8a3"/>
<circle cx="318" cy="94.6" r="2.8" fill="#17a8a3"/>
<circle cx="323.8" cy="97.1" r="2.8" fill="#17a8a3"/>
<circle cx="331.7" cy="101.7" r="2.8" fill="#17a8a3"/>
<circle cx="341.8" cy="120.6" r="2.8" fill="#17a8a3"/>
<circle cx="355.1" cy="120.6" r="2.8" fill="#17a8a3"/>
<circle cx="373.3" cy="120.6" r="2.8" fill="#17a8a3"/>
<circle cx="401.2" cy="120.6" r="2.8" fill="#17a8a3"/>
<circle cx="447.9" cy="120.6" r="2.8" fill="#17a8a3"/>
<path d="M321.4 91.5 L326.5 94.3 L330 98.2 L333.5 102.8 L343.2 119.3 L360 120.4" fill="none" stroke="#111" stroke-width="2.7" stroke-dasharray="4.8 3.4"/>
<path d="M376.8 32.8H386.4" stroke="#999" stroke-width="1"/>
<text x="390.8" y="35.6" font-size="7.9" fill="#222222" >Steiner</text>
<circle cx="381.5" cy="42" r="2.5" fill="#17a8a3"/>
<text x="390.8" y="44.8" font-size="7.9" fill="#222222" >Manifold</text>
<path d="M275.6 16.7L269 16.7" stroke="#56636e" stroke-width="0.9" fill="none"/>
<path d="M266.2 16.7L269.5 15.1L269.5 18.3Z" fill="#56636e"/>
<path d="M325.2 16.7L332.4 16.7" stroke="#56636e" stroke-width="0.9" fill="none"/>
<path d="M335.2 16.7L331.9 18.3L331.9 15.1Z" fill="#56636e"/>
<path d="M369.8 16.7L341.5 16.7" stroke="#56636e" stroke-width="0.9" fill="none"/>
<path d="M338.7 16.7L342 15.1L342 18.3Z" fill="#56636e"/>
<path d="M422 16.7L446.7 16.7" stroke="#56636e" stroke-width="0.9" fill="none"/>
<path d="M449.5 16.7L446.2 18.3L446.2 15.1Z" fill="#56636e"/>
<text x="282" y="18.9" font-size="7.9" fill="#222222" >Bifurcation</text>
<text x="377.1" y="18.9" font-size="7.9" fill="#222222" >Trifurcation</text>
<rect x="30.5" y="187.4" width="57.3" height="103.6" fill="#8a8a8a"/>
<rect x="40.2" y="201.1" width="36.9" height="68.2" fill="#464646"/>
<polygon points="30.5,187.4 87.8,187.4 76.8,201.4 40.5,201.4" fill="url(#g38_0)"/>
<polygon points="87.8,187.4 87.8,291 76.8,269 76.8,201.4" fill="url(#g38_1)"/>
<polygon points="87.8,291 30.5,291 40.5,269 76.8,269" fill="url(#g38_2)"/>
<polygon points="30.5,291 30.5,187.4 40.5,201.4 40.5,269" fill="url(#g38_3)"/>
<rect x="264" y="210" width="55.5" height="77" fill="#c8c8c2"/>
<rect x="266.2" y="212.2" width="51.1" height="72.6" fill="#a3a199"/>
<polygon points="264,210 319.5,210 317,212.5 266.5,212.5" fill="url(#g42_0)"/>
<polygon points="319.5,210 319.5,287 317,284.5 317,212.5" fill="url(#g42_1)"/>
<polygon points="319.5,287 264,287 266.5,284.5 317,284.5" fill="url(#g42_2)"/>
<polygon points="264,287 264,210 266.5,212.5 266.5,284.5" fill="url(#g42_3)"/>
<rect x="497" y="218" width="66" height="70.5" fill="#9aa2cc"/>
<rect x="502.7" y="225.7" width="52.6" height="55.1" fill="#606ca2"/>
<polygon points="497,218 563,218 555,226 503,226" fill="url(#g46_0)"/>
<polygon points="563,218 563,288.5 555,280.5 555,226" fill="url(#g46_1)"/>
<polygon points="563,288.5 497,288.5 503,280.5 555,280.5" fill="url(#g46_2)"/>
<polygon points="497,288.5 497,218 503,226 503,280.5" fill="url(#g46_3)"/>
<rect x="30.5" y="369.6" width="48.7" height="85.4" fill="#a8a8a8"/>
<rect x="35.2" y="375.8" width="38.3" height="70" fill="#7a7879"/>
<polygon points="30.5,369.6 79.2,369.6 73.2,376.1 35.5,376.1" fill="url(#g50_0)"/>
<polygon points="79.2,369.6 79.2,455 73.2,445.5 73.2,376.1" fill="url(#g50_1)"/>
<polygon points="79.2,455 30.5,455 35.5,445.5 73.2,445.5" fill="url(#g50_2)"/>
<polygon points="30.5,455 30.5,369.6 35.5,376.1 35.5,445.5" fill="url(#g50_3)"/>
<rect x="264.4" y="372.6" width="76.7" height="58.5" fill="#b0a8bc"/>
<rect x="272.9" y="380.3" width="60.5" height="44.5" fill="#786a8c"/>
<polygon points="264.4,372.6 341.1,372.6 333.1,380.6 273.2,380.6" fill="url(#g54_0)"/>
<polygon points="341.1,372.6 341.1,431.1 333.1,424.5 333.1,380.6" fill="url(#g54_1)"/>
<polygon points="341.1,431.1 264.4,431.1 273.2,424.5 333.1,424.5" fill="url(#g54_2)"/>
<polygon points="264.4,431.1 264.4,372.6 273.2,380.6 273.2,424.5" fill="url(#g54_3)"/>
<rect x="500.8" y="370.5" width="48" height="78.5" fill="#ccd8d0"/>
<rect x="506.5" y="376.2" width="35.6" height="66.1" fill="#b4c4b8"/>
<polygon points="500.8,370.5 548.8,370.5 541.8,376.5 506.8,376.5" fill="url(#g58_0)"/>
<polygon points="548.8,370.5 548.8,449 541.8,442 541.8,376.5" fill="url(#g58_1)"/>
<polygon points="548.8,449 500.8,449 506.8,442 541.8,442" fill="url(#g58_2)"/>
<polygon points="500.8,449 500.8,370.5 506.8,376.5 506.8,442" fill="url(#g58_3)"/>
<path d="M59.2 220 L57.9 217.89 L56.06 216.33 L54 215 L51.91 213.44 L49.72 212 L48 210 L45.68 208.82 L43.26 207.82 L41 206.5M59.2 220 L56.71 220.32 L54.49 218.71 L52 219 L49.64 217.8 L47 217.5 L43.4 216.7M59.2 220 L56.58 219.88 L54.18 220.56 L52 222 L50.07 222.96 L48.06 223.08 L46 222.5 L43.84 221.95 L41.7 222.6M59.2 220 L60.09 218.05 L61.8 216.71 L63 215 L65.16 213.16 L67.6 211.7 L69.21 209.91 L70.71 208.04 L72 206M59.2 220 L61.23 218.26 L63.37 216.72 L66 216 L67.66 214.84 L69.19 213.46 L70.86 212.32 L73 212 L75.69 210.83 L78.5 210M59.2 220 L61.42 219.97 L63.65 219.93 L65.86 219.78 L68 219 L70.5 219.28 L72.76 218.42 L75 217.5 L77.67 217.85 L80.1 216.7M59.2 220 L61.28 221.01 L63.47 221.57 L65.81 221.47 L68 222 L70.45 222.25 L72.91 222.47 L75 224 L77.45 225.22 L80.1 225.9M59.2 220 L58.43 222.15 L57.66 224.29 L55.81 225.87 L55 228 L54.69 230.34 L52.94 231.97 L52.22 234.11 L51.71 236.36 L50 238 L48.99 239.99 L48.74 242.37 L47 244 L46.11 246.3 L45 248.5 L46.41 250.8 L47.05 253.31 L47 256 L48.1 257.81 L48.43 260.02 L50.53 261.31 L50.9 263.5M59.2 220 L59.24 222.11 L57.51 223.82 L58.54 226.14 L57.08 227.92 L57 230 L57.25 232.29 L56.49 234.35 L54.7 236.18 L55.1 238.5 L54.54 240.89 L52.8 242.72 L52 245M59.2 220 L60.02 221.98 L60.93 223.92 L62.09 225.77 L61.62 228.23 L63 230 L64.45 231.74 L64.2 234 L64.11 236.21 L66.12 237.78 L66 240 L66.91 242.08 L67.81 244.17 L69.74 245.76 L70.2 248.06 L71 250.2 L72.86 251.76 L75.1 252.7M59.2 220 L59.88 222.05 L60.92 223.95 L61.47 226.05 L62.89 227.8 L62.68 230.21 L64 232 L63.09 234.08 L63.06 236.29 L63.6 238.59 L62.63 240.66 L62.64 242.88 L62 245 L62.65 246.96 L61.59 249.08 L61.71 251.09 L63.62 252.92 L63 255 L62.89 257.49 L63.87 259.74 L64.78 262 L65.1 264.4 L67.67 264.83 L70 266 L71.57 267.51 L73.5 268.5M59.2 220 L61.05 221.26 L62.74 222.75 L64.15 224.61 L66.44 225.28 L68.19 226.68 L70 228 L71.07 229.69 L72.85 230.86 L73.58 232.81 L74.61 234.54 L76 236 L76.89 238.29 L79.27 239.59 L80 242M59.2 220 L57.7 221.37 L55.95 222.45 L54.4 223.77 L53.49 225.82 L52.11 227.33 L50 228 L48.66 229.66 L47.29 231.29 L45.1 232.1 L44 234 L41.76 235.76 L40 238M59.2 220 L61.19 221.17 L62.38 223.25 L64.08 224.75 L66 226 L66.22 228.23 L68.13 229.79 L68.85 231.82 L69.79 233.76 L70 236 L70.89 237.9 L70.39 240.08 L71.85 241.87 L71.54 244.01 L72 246M59.2 220 L57.52 218.33 L57.42 215.83 L56.29 213.87 L55 212 L54.99 209.72 L53.11 208.14 L52.34 206.15 L52 204 L51.38 201.81 L50 200M59.2 220 L60.57 218.23 L59.47 215.76 L61.29 214.11 L60.85 211.83 L62 210 L63.51 207.91 L62.5 205.09 L64 203M59.2 220 L60.18 221.98 L60.73 224.11 L61.44 226.19 L62.35 228.18 L63.07 230.25 L63.75 232.33 L64.95 234.06 L65.63 236.09 L66.94 237.76 L68.11 239.66 L68.24 241.95 L69.23 243.92M59.2 220 L60.05 217.25 L60.83 214.48 L61.79 211.65 L61.66 208.66 L62.11 205.64 L60.91 202.83 L59.76 200M59.2 220 L57.15 217.56 L54.79 215.66 L52.2 214.36 L49.43 214.19M59.2 220 L61.75 221.17 L64.49 221.74 L66.86 223.35 L69.65 224.02 L72.38 224.07 L75.11 224.04 L77.82 223.64 L80.52 223.21M59.2 220 L56.37 218.86 L53.47 218.06 L50.51 218.19 L47.6 217.46M59.2 220 L61.18 221.46 L61.96 223.89 L63.74 225.52 L65 227.57 L66.69 229.31 L68.12 231.24 L70.1 232.58 L70.96 234.98 L72.95 236.31 L74.18 238.36 L76.19 239.66 L77.83 241.31M59.2 220 L59.57 223.41 L60.42 226.67 L60.76 230.09 L61.63 233.34M59.2 220 L61.24 220.72 L63.27 220.71 L65.27 219.86 L67.12 220.98 L69.43 220 L71.27 221.16 L73.2 221.9 L75.26 222.2 L77.19 222.91 L79.57 224.43 L82 225.86M59.2 220 L60.05 222.58 L61.59 224.81 L62.65 227.22 L64.69 228.88 L66.25 231.2 L66.74 233.94 L66.33 236.89 L67.68 239.54M59.2 220 L57.72 221.62 L55.94 222.92 L53.84 224.01 L52.86 226.16 L50.74 226.45 L49.12 227.86 L47.56 229.34 L45.5 229.93M59.2 220 L61.93 221.18 L64.18 223.49 L66.45 225.79 L68.72 228.07M59.2 220 L56.52 219.3 L53.75 219.13 L51.15 218.07 L48.36 217.72 L45.94 216.09 L43.03 216.04 L40.29 215.4 L38 213.76M59.2 220 L60.84 223.54 L61.91 225.42 L61.6 227.56 L62.79 229.32 L62.7 231.44 L62.97 233.46 L63.58 235.41M59.2 220 L59.05 223.78 L58.27 227.43 L56.96 230.82 L55.89 234.34M48 210 L47.05 207.23 L45.97 204.52M47 217.5 L45.07 215.16 L44.76 212.14M46 222.5 L47.51 220.15 L50.02 218.93M67.6 211.7 L70.05 211.04 L72.43 210.15M73 212 L70.88 213.61 L68.83 215.31M75 217.5 L77.5 217.38 L79.99 217.09M75 224 L77.34 222.98 L79.85 222.56M47 256 L45.09 254.12 L42.79 252.77M55.1 238.5 L57.14 236.66 L58.81 234.48M71 250.2 L68.54 250.89 L66.01 250.54M70 266 L68.26 267.06 L66.45 268M76 236 L76.26 239 L76.09 242M44 234 L45.97 232.06 L47.56 229.79M70 236 L72.05 238.18 L72.62 241.11M52 204 L54.35 205.12 L56.53 206.53M62 210 L62.46 207.06 L63.7 204.36" stroke="#a4a4a4" stroke-width="0.55" fill="none" stroke-linejoin="round"/>
<circle cx="59.2" cy="220" r="4.5" fill="url(#q36)"/>
<ellipse cx="302.5" cy="224" rx="5.5" ry="7" fill="#2c2a1c" opacity="0.92"/>
<ellipse cx="297.5" cy="275.5" rx="8" ry="5.2" fill="#2c2a1c" opacity="0.95"/>
<path d="M301.61 226.13 L301.74 221.03 L298.28 221.78 L308.32 225.28 L308.12 224.38 L305.18 224.15 L296.53 226.74 L305.69 225.98 L297.58 216.71 L298.54 220.36 L304.71 222.71 L305.71 219.24 L304.69 225.43 L300.4 230.59 L305.57 229.22 L299.86 218.79 L301.08 222.33 L306.38 224.49 L300.78 217.67 L300.6 229.34 L298.81 224.43 L304.84 215.77 L303.22 229.82 L295.61 221.67 L302.45 218.21 L305.73 222.62 L296.94 226.85 L306.23 228.14 L309.34 224.79 L303.55 216.22 L306.18 219.45 L300.92 216.47 L298.26 220.07 L307.17 215.61 L296.57 224.19 L309.22 225.8 L298.2 215.84 L304.86 218.68 L298.07 227.84 L308.38 223.86 L304.35 225.68 L309.54 225.86 L305.74 226.25 L297.22 228.32 L307.69 225.93 L295.84 220.41 L306.14 215.41 L302.08 228.71 L298.25 229.56 L306 222.08" stroke="#2c2a1c" stroke-width="0.45" fill="none"/>
<path d="M310.94 230.58 L309.66 232.16 L305.09 226.37 L314.82 228.1 L304.39 231.31 L316.16 226.55 L301.96 227.54 L308.06 226.75 L315.42 224.87 L314.67 224.2 L304.57 230.37 L314.7 230.89 L311.16 228.59 L309.93 230.34 L307.89 229.16 L312.5 228 L313.36 230.15 L317.31 228.9 L306.38 226.48 L308.92 231.54 L306.93 229.58 L314.22 223.14 L302.88 228.89 L311.47 228.99 L306.45 230.58 L310.72 225.88 L317.68 228.85 L305.61 227.59 L307.57 227.74 L300.24 226.96 L313.91 224.21 L308.62 231.62 L312.94 232.57 L301.22 226.92 L306.96 230.49" stroke="#2c2a1c" stroke-width="0.45" fill="none"/>
<path d="M301.61 268.11 L303.44 269.62 L301.44 269.13 L298.65 280.34 L296.35 276.01 L303.23 275.69 L296.97 281.23 L304.58 273.65 L307.59 272.13 L303.88 273.74 L298.47 278.51 L299.13 278.2 L290.08 270 L301.6 270.62 L291.87 269.5 L305.2 278.1 L305.71 271.44 L297.51 269.81 L301.74 281 L292.62 280.83 L304.31 274.16 L288.79 279.24 L296.78 271.95 L300.49 277.09 L305.67 271.21 L303.57 280.42 L306.35 274.25 L292.69 279.49 L298.39 275.66 L306.22 273.9 L287.02 273.8 L288.11 277.83 L299.83 271.94 L297.43 279.06 L298 280.73 L297.08 279.85 L304.63 280.25 L292.98 279.03 L288.44 271.43 L288.25 278.44 L289.48 274.94 L296.01 274.85 L293.12 276.18 L307.33 275.17 L301.05 279.56 L296.23 269.47 L293.86 279.8 L288.34 272.73 L303.97 278.47 L297.55 278.95 L298.59 269.71 L288.62 272.53 L303.74 272.39 L291.55 271.54 L288.37 274.52 L289.82 276.62 L286.93 276 L294.27 268.33 L302.74 273.64 L287.55 272.34 L299.68 272.65 L302.78 278.45 L302.35 276.62 L305.57 277.72 L299.7 268.06 L302.76 280.24 L295.28 272.6 L305.52 270.05 L299.54 282.19 L291.34 278.12" stroke="#2c2a1c" stroke-width="0.45" fill="none"/>
<path d="M297 230 C292 228 288 232 290 235 C292 238 296 240 296 244 C295 250 291 254 291 262 C291 266 293 268 294 270 M290 280 C282 282 272 283 265.5 285.8 M313 224 L318 226" stroke="#2c2a1c" stroke-width="0.5" fill="none"/>
<path d="M517 265 C515.5 256 516.5 247 518.5 242 C520.5 237 525 236 527.5 240 C529.5 245 531 249 536 251 C539 252 541 250 542 246" stroke="#a63a55" stroke-width="7" fill="none" stroke-linecap="round"/>
<path d="M516 262L511.98 267.73" stroke="#a63a55" stroke-width="2" stroke-linecap="round"/>
<path d="M511.98 267.73L511.1 272.15" stroke="#a63a55" stroke-width="1.4" stroke-linecap="round"/>
<path d="M511.1 272.15L511.44 275.58" stroke="#a63a55" stroke-width="0.98" stroke-linecap="round"/>
<path d="M511.44 275.58L512.24 277.77" stroke="#a63a55" stroke-width="0.7" stroke-linecap="round"/>
<path d="M512.24 277.77L513.3 278.58" stroke="#a63a55" stroke-width="0.7" stroke-linecap="round"/>
<path d="M512.24 277.77L512.09 279.41" stroke="#a63a55" stroke-width="0.7" stroke-linecap="round"/>
<path d="M511.44 275.58L511.07 277.78" stroke="#a63a55" stroke-width="0.7" stroke-linecap="round"/>
<path d="M511.07 277.78L511.55 279.18" stroke="#a63a55" stroke-width="0.7" stroke-linecap="round"/>
<path d="M511.07 277.78L510.26 278.81" stroke="#a63a55" stroke-width="0.7" stroke-linecap="round"/>
<path d="M511.1 272.15L509.78 274.39" stroke="#a63a55" stroke-width="0.98" stroke-linecap="round"/>
<path d="M509.78 274.39L509.56 276.41" stroke="#a63a55" stroke-width="0.7" stroke-linecap="round"/>
<path d="M509.56 276.41L510.08 277.83" stroke="#a63a55" stroke-width="0.7" stroke-linecap="round"/>
<path d="M509.56 276.41L508.86 277.73" stroke="#a63a55" stroke-width="0.7" stroke-linecap="round"/>
<path d="M509.78 274.39L508.59 275.5" stroke="#a63a55" stroke-width="0.7" stroke-linecap="round"/>
<path d="M508.59 275.5L508.21 276.62" stroke="#a63a55" stroke-width="0.7" stroke-linecap="round"/>
<path d="M508.59 275.5L507.72 275.82" stroke="#a63a55" stroke-width="0.7" stroke-linecap="round"/>
<path d="M511.98 267.73L508.54 270.17" stroke="#a63a55" stroke-width="1.4" stroke-linecap="round"/>
<path d="M508.54 270.17L506.74 272.78" stroke="#a63a55" stroke-width="0.98" stroke-linecap="round"/>
<path d="M506.74 272.78L506.05 275.13" stroke="#a63a55" stroke-width="0.7" stroke-linecap="round"/>
<path d="M506.05 275.13L506.42 276.46" stroke="#a63a55" stroke-width="0.7" stroke-linecap="round"/>
<path d="M506.05 275.13L505.03 276.42" stroke="#a63a55" stroke-width="0.7" stroke-linecap="round"/>
<path d="M506.74 272.78L505.15 274.13" stroke="#a63a55" stroke-width="0.7" stroke-linecap="round"/>
<path d="M505.15 274.13L504.8 275.28" stroke="#a63a55" stroke-width="0.7" stroke-linecap="round"/>
<path d="M505.15 274.13L504 274.43" stroke="#a63a55" stroke-width="0.7" stroke-linecap="round"/>
<path d="M508.54 270.17L505.32 270.71" stroke="#a63a55" stroke-width="0.98" stroke-linecap="round"/>
<path d="M505.32 270.71L504 271.55" stroke="#a63a55" stroke-width="0.7" stroke-linecap="round"/>
<path d="M505.32 270.71L504 270.05" stroke="#a63a55" stroke-width="0.7" stroke-linecap="round"/>
<path d="M517 264L515.61 271.88" stroke="#a63a55" stroke-width="2" stroke-linecap="round"/>
<path d="M515.61 271.88L516.91 276.44" stroke="#a63a55" stroke-width="1.4" stroke-linecap="round"/>
<path d="M516.91 276.44L519.45 279.2" stroke="#a63a55" stroke-width="0.98" stroke-linecap="round"/>
<path d="M519.45 279.2L521.63 280.58" stroke="#a63a55" stroke-width="0.7" stroke-linecap="round"/>
<path d="M521.63 280.58L523 280.72" stroke="#a63a55" stroke-width="0.7" stroke-linecap="round"/>
<path d="M521.63 280.58L522.91 282.2" stroke="#a63a55" stroke-width="0.7" stroke-linecap="round"/>
<path d="M519.45 279.2L519.75 281.36" stroke="#a63a55" stroke-width="0.7" stroke-linecap="round"/>
<path d="M519.75 281.36L520.78 282.73" stroke="#a63a55" stroke-width="0.7" stroke-linecap="round"/>
<path d="M519.75 281.36L519.46 282.86" stroke="#a63a55" stroke-width="0.7" stroke-linecap="round"/>
<path d="M516.91 276.44L516.96 279.48" stroke="#a63a55" stroke-width="0.98" stroke-linecap="round"/>
<path d="M516.96 279.48L517.97 281.35" stroke="#a63a55" stroke-width="0.7" stroke-linecap="round"/>
<path d="M517.97 281.35L519.01 281.98" stroke="#a63a55" stroke-width="0.7" stroke-linecap="round"/>
<path d="M517.97 281.35L518.18 282.96" stroke="#a63a55" stroke-width="0.7" stroke-linecap="round"/>
<path d="M516.96 279.48L516.09 281.31" stroke="#a63a55" stroke-width="0.7" stroke-linecap="round"/>
<path d="M516.09 281.31L516.01 282.91" stroke="#a63a55" stroke-width="0.7" stroke-linecap="round"/>
<path d="M516.09 281.31L515.22 282.01" stroke="#a63a55" stroke-width="0.7" stroke-linecap="round"/>
<path d="M515.61 271.88L512.34 275.73" stroke="#a63a55" stroke-width="1.4" stroke-linecap="round"/>
<path d="M512.34 275.73L511.43 278.65" stroke="#a63a55" stroke-width="0.98" stroke-linecap="round"/>
<path d="M511.43 278.65L511.62 280.56" stroke="#a63a55" stroke-width="0.7" stroke-linecap="round"/>
<path d="M511.62 280.56L512.13 281.82" stroke="#a63a55" stroke-width="0.7" stroke-linecap="round"/>
<path d="M511.62 280.56L511.36 281.97" stroke="#a63a55" stroke-width="0.7" stroke-linecap="round"/>
<path d="M511.43 278.65L510.22 280.57" stroke="#a63a55" stroke-width="0.7" stroke-linecap="round"/>
<path d="M510.22 280.57L510.17 282.1" stroke="#a63a55" stroke-width="0.7" stroke-linecap="round"/>
<path d="M510.22 280.57L509 281.25" stroke="#a63a55" stroke-width="0.7" stroke-linecap="round"/>
<path d="M512.34 275.73L509.23 276.9" stroke="#a63a55" stroke-width="0.98" stroke-linecap="round"/>
<path d="M509.23 276.9L507.2 278.57" stroke="#a63a55" stroke-width="0.7" stroke-linecap="round"/>
<path d="M507.2 278.57L506.4 280.05" stroke="#a63a55" stroke-width="0.7" stroke-linecap="round"/>
<path d="M507.2 278.57L505.53 278.8" stroke="#a63a55" stroke-width="0.7" stroke-linecap="round"/>
<path d="M509.23 276.9L507.28 276.65" stroke="#a63a55" stroke-width="0.7" stroke-linecap="round"/>
<path d="M507.28 276.65L506.17 277.14" stroke="#a63a55" stroke-width="0.7" stroke-linecap="round"/>
<path d="M507.28 276.65L505.83 276.05" stroke="#a63a55" stroke-width="0.7" stroke-linecap="round"/>
<path d="M515 258L509.36 260.05" stroke="#a63a55" stroke-width="1.6" stroke-linecap="round"/>
<path d="M509.36 260.05L505.63 262.94" stroke="#a63a55" stroke-width="1.12" stroke-linecap="round"/>
<path d="M505.63 262.94L504.6 266.09" stroke="#a63a55" stroke-width="0.78" stroke-linecap="round"/>
<path d="M504.6 266.09L504.49 267.96" stroke="#a63a55" stroke-width="0.7" stroke-linecap="round"/>
<path d="M504.6 266.09L504 267.81" stroke="#a63a55" stroke-width="0.7" stroke-linecap="round"/>
<path d="M505.63 262.94L504 263.67" stroke="#a63a55" stroke-width="0.78" stroke-linecap="round"/>
<path d="M509.36 260.05L505.24 260.34" stroke="#a63a55" stroke-width="1.12" stroke-linecap="round"/>
<path d="M505.24 260.34L504 261.58" stroke="#a63a55" stroke-width="0.78" stroke-linecap="round"/>
<path d="M505.24 260.34L504 259.18" stroke="#a63a55" stroke-width="0.78" stroke-linecap="round"/>
<path d="M514 266L508.64 270.5" stroke="#a63a55" stroke-width="1.6" stroke-linecap="round"/>
<path d="M508.64 270.5L506.46 273.77" stroke="#a63a55" stroke-width="1.12" stroke-linecap="round"/>
<path d="M506.46 273.77L506.1 276.08" stroke="#a63a55" stroke-width="0.78" stroke-linecap="round"/>
<path d="M506.1 276.08L506.52 277.35" stroke="#a63a55" stroke-width="0.7" stroke-linecap="round"/>
<path d="M506.1 276.08L505.22 277.18" stroke="#a63a55" stroke-width="0.7" stroke-linecap="round"/>
<path d="M506.46 273.77L504.71 275.33" stroke="#a63a55" stroke-width="0.78" stroke-linecap="round"/>
<path d="M504.71 275.33L504.04 276.79" stroke="#a63a55" stroke-width="0.7" stroke-linecap="round"/>
<path d="M504.71 275.33L504 275.79" stroke="#a63a55" stroke-width="0.7" stroke-linecap="round"/>
<path d="M508.64 270.5L504 272.02" stroke="#a63a55" stroke-width="1.12" stroke-linecap="round"/>
<path d="M516 250L512.63 241.66" stroke="#a63a55" stroke-width="1.7" stroke-linecap="round"/>
<path d="M512.63 241.66L508.2 236.79" stroke="#a63a55" stroke-width="1.19" stroke-linecap="round"/>
<path d="M508.2 236.79L504.61 235.57" stroke="#a63a55" stroke-width="0.83" stroke-linecap="round"/>
<path d="M504.61 235.57L504 235.98" stroke="#a63a55" stroke-width="0.7" stroke-linecap="round"/>
<path d="M504.61 235.57L504 233.73" stroke="#a63a55" stroke-width="0.7" stroke-linecap="round"/>
<path d="M508.2 236.79L506.1 232.68" stroke="#a63a55" stroke-width="0.83" stroke-linecap="round"/>
<path d="M506.1 232.68L504 230.34" stroke="#a63a55" stroke-width="0.7" stroke-linecap="round"/>
<path d="M506.1 232.68L505.62 229.23" stroke="#a63a55" stroke-width="0.7" stroke-linecap="round"/>
<path d="M512.63 241.66L513.4 235.35" stroke="#a63a55" stroke-width="1.19" stroke-linecap="round"/>
<path d="M513.4 235.35L511.9 232.12" stroke="#a63a55" stroke-width="0.83" stroke-linecap="round"/>
<path d="M511.9 232.12L509.95 230.56" stroke="#a63a55" stroke-width="0.7" stroke-linecap="round"/>
<path d="M511.9 232.12L512.02 229.81" stroke="#a63a55" stroke-width="0.7" stroke-linecap="round"/>
<path d="M513.4 235.35L514.86 231.84" stroke="#a63a55" stroke-width="0.83" stroke-linecap="round"/>
<path d="M514.86 231.84L514.71 229.59" stroke="#a63a55" stroke-width="0.7" stroke-linecap="round"/>
<path d="M514.86 231.84L516.36 229.94" stroke="#a63a55" stroke-width="0.7" stroke-linecap="round"/>
<path d="M514 255L507.24 253.19" stroke="#a63a55" stroke-width="1.5" stroke-linecap="round"/>
<path d="M507.24 253.19L504 253.92" stroke="#a63a55" stroke-width="1.05" stroke-linecap="round"/>
<path d="M507.24 253.19L504 250.27" stroke="#a63a55" stroke-width="1.05" stroke-linecap="round"/>
<path d="M513 260L507.02 260.52" stroke="#a63a55" stroke-width="1.5" stroke-linecap="round"/>
<path d="M507.02 260.52L504 262.03" stroke="#a63a55" stroke-width="1.05" stroke-linecap="round"/>
<path d="M507.02 260.52L504 259.85" stroke="#a63a55" stroke-width="1.05" stroke-linecap="round"/>
<path d="M541 248L540.13 238.04" stroke="#a63a55" stroke-width="2" stroke-linecap="round"/>
<path d="M540.13 238.04L536.62 232.3" stroke="#a63a55" stroke-width="1.4" stroke-linecap="round"/>
<path d="M536.62 232.3L532.55 229.2" stroke="#a63a55" stroke-width="0.98" stroke-linecap="round"/>
<path d="M532.55 229.2L529.58 228.41" stroke="#a63a55" stroke-width="0.7" stroke-linecap="round"/>
<path d="M529.58 228.41L527.54 228.58" stroke="#a63a55" stroke-width="0.7" stroke-linecap="round"/>
<path d="M529.58 228.41L527.99 227" stroke="#a63a55" stroke-width="0.7" stroke-linecap="round"/>
<path d="M532.55 229.2L531.05 226.55" stroke="#a63a55" stroke-width="0.7" stroke-linecap="round"/>
<path d="M531.05 226.55L529.53 226" stroke="#a63a55" stroke-width="0.7" stroke-linecap="round"/>
<path d="M531.05 226.55L530.62 226" stroke="#a63a55" stroke-width="0.7" stroke-linecap="round"/>
<path d="M536.62 232.3L535.49 227.53" stroke="#a63a55" stroke-width="0.98" stroke-linecap="round"/>
<path d="M535.49 227.53L533.62 226" stroke="#a63a55" stroke-width="0.7" stroke-linecap="round"/>
<path d="M535.49 227.53L536.55 226" stroke="#a63a55" stroke-width="0.7" stroke-linecap="round"/>
<path d="M540.13 238.04L541.29 231.26" stroke="#a63a55" stroke-width="1.4" stroke-linecap="round"/>
<path d="M541.29 231.26L540.01 226.14" stroke="#a63a55" stroke-width="0.98" stroke-linecap="round"/>
<path d="M541.29 231.26L543.1 227.75" stroke="#a63a55" stroke-width="0.98" stroke-linecap="round"/>
<path d="M543.1 227.75L542.91 226" stroke="#a63a55" stroke-width="0.7" stroke-linecap="round"/>
<path d="M543.1 227.75L545.1 226" stroke="#a63a55" stroke-width="0.7" stroke-linecap="round"/>
<path d="M542 247L550.16 243.2" stroke="#a63a55" stroke-width="1.7" stroke-linecap="round"/>
<path d="M550.16 243.2L554.79 238.88" stroke="#a63a55" stroke-width="1.19" stroke-linecap="round"/>
<path d="M554.79 238.88L555.94 234.65" stroke="#a63a55" stroke-width="0.83" stroke-linecap="round"/>
<path d="M555.94 234.65L555.98 231.49" stroke="#a63a55" stroke-width="0.7" stroke-linecap="round"/>
<path d="M555.94 234.65L557.41 232.11" stroke="#a63a55" stroke-width="0.7" stroke-linecap="round"/>
<path d="M554.79 238.88L558 237.99" stroke="#a63a55" stroke-width="0.83" stroke-linecap="round"/>
<path d="M550.16 243.2L556.63 243.01" stroke="#a63a55" stroke-width="1.19" stroke-linecap="round"/>
<path d="M556.63 243.01L558 241.57" stroke="#a63a55" stroke-width="0.83" stroke-linecap="round"/>
<path d="M556.63 243.01L558 244.89" stroke="#a63a55" stroke-width="0.83" stroke-linecap="round"/>
<path d="M542 250L543.74 259.85" stroke="#a63a55" stroke-width="2" stroke-linecap="round"/>
<path d="M543.74 259.85L546.47 265.22" stroke="#a63a55" stroke-width="1.4" stroke-linecap="round"/>
<path d="M546.47 265.22L550.17 268.08" stroke="#a63a55" stroke-width="0.98" stroke-linecap="round"/>
<path d="M550.17 268.08L552.82 269" stroke="#a63a55" stroke-width="0.7" stroke-linecap="round"/>
<path d="M552.82 269L554.64 268.71" stroke="#a63a55" stroke-width="0.7" stroke-linecap="round"/>
<path d="M552.82 269L554.26 270.73" stroke="#a63a55" stroke-width="0.7" stroke-linecap="round"/>
<path d="M550.17 268.08L551.29 271.3" stroke="#a63a55" stroke-width="0.7" stroke-linecap="round"/>
<path d="M551.29 271.3L552.61 272.7" stroke="#a63a55" stroke-width="0.7" stroke-linecap="round"/>
<path d="M551.29 271.3L550.85 273.47" stroke="#a63a55" stroke-width="0.7" stroke-linecap="round"/>
<path d="M546.47 265.22L546.73 269.48" stroke="#a63a55" stroke-width="0.98" stroke-linecap="round"/>
<path d="M546.73 269.48L548.5 271.82" stroke="#a63a55" stroke-width="0.7" stroke-linecap="round"/>
<path d="M548.5 271.82L550.68 272.63" stroke="#a63a55" stroke-width="0.7" stroke-linecap="round"/>
<path d="M548.5 271.82L549.17 273.58" stroke="#a63a55" stroke-width="0.7" stroke-linecap="round"/>
<path d="M546.73 269.48L545.21 272.25" stroke="#a63a55" stroke-width="0.7" stroke-linecap="round"/>
<path d="M545.21 272.25L545.37 274.13" stroke="#a63a55" stroke-width="0.7" stroke-linecap="round"/>
<path d="M545.21 272.25L543.21 273.72" stroke="#a63a55" stroke-width="0.7" stroke-linecap="round"/>
<path d="M543.74 259.85L541.86 266.77" stroke="#a63a55" stroke-width="1.4" stroke-linecap="round"/>
<path d="M541.86 266.77L543.23 270.81" stroke="#a63a55" stroke-width="0.98" stroke-linecap="round"/>
<path d="M543.23 270.81L545.05 273.5" stroke="#a63a55" stroke-width="0.7" stroke-linecap="round"/>
<path d="M545.05 273.5L546.75 274.47" stroke="#a63a55" stroke-width="0.7" stroke-linecap="round"/>
<path d="M545.05 273.5L545.17 275.51" stroke="#a63a55" stroke-width="0.7" stroke-linecap="round"/>
<path d="M543.23 270.81L543.31 273.46" stroke="#a63a55" stroke-width="0.7" stroke-linecap="round"/>
<path d="M543.31 273.46L543.81 275.12" stroke="#a63a55" stroke-width="0.7" stroke-linecap="round"/>
<path d="M543.31 273.46L542.48 275.02" stroke="#a63a55" stroke-width="0.7" stroke-linecap="round"/>
<path d="M541.86 266.77L538.83 269.42" stroke="#a63a55" stroke-width="0.98" stroke-linecap="round"/>
<path d="M538.83 269.42L537.62 271.44" stroke="#a63a55" stroke-width="0.7" stroke-linecap="round"/>
<path d="M537.62 271.44L537.49 272.85" stroke="#a63a55" stroke-width="0.7" stroke-linecap="round"/>
<path d="M537.62 271.44L536.25 272.28" stroke="#a63a55" stroke-width="0.7" stroke-linecap="round"/>
<path d="M538.83 269.42L535.88 270.23" stroke="#a63a55" stroke-width="0.7" stroke-linecap="round"/>
<path d="M535.88 270.23L535 271.93" stroke="#a63a55" stroke-width="0.7" stroke-linecap="round"/>
<path d="M535.88 270.23L535 270.15" stroke="#a63a55" stroke-width="0.7" stroke-linecap="round"/>
<path d="M543 252L548.66 257.66" stroke="#a63a55" stroke-width="1.7" stroke-linecap="round"/>
<path d="M548.66 257.66L553.75 258.68" stroke="#a63a55" stroke-width="1.19" stroke-linecap="round"/>
<path d="M553.75 258.68L557.19 258.16" stroke="#a63a55" stroke-width="0.83" stroke-linecap="round"/>
<path d="M557.19 258.16L558 256.97" stroke="#a63a55" stroke-width="0.7" stroke-linecap="round"/>
<path d="M557.19 258.16L558 258.62" stroke="#a63a55" stroke-width="0.7" stroke-linecap="round"/>
<path d="M553.75 258.68L556.91 260.29" stroke="#a63a55" stroke-width="0.83" stroke-linecap="round"/>
<path d="M556.91 260.29L558 260.59" stroke="#a63a55" stroke-width="0.7" stroke-linecap="round"/>
<path d="M556.91 260.29L558 261.87" stroke="#a63a55" stroke-width="0.7" stroke-linecap="round"/>
<path d="M548.66 257.66L550.21 262.46" stroke="#a63a55" stroke-width="1.19" stroke-linecap="round"/>
<path d="M550.21 262.46L552.89 264.67" stroke="#a63a55" stroke-width="0.83" stroke-linecap="round"/>
<path d="M552.89 264.67L555.21 265.73" stroke="#a63a55" stroke-width="0.7" stroke-linecap="round"/>
<path d="M555.21 265.73L556.64 265.88" stroke="#a63a55" stroke-width="0.7" stroke-linecap="round"/>
<path d="M555.21 265.73L556.71 266.96" stroke="#a63a55" stroke-width="0.7" stroke-linecap="round"/>
<path d="M552.89 264.67L553.72 266.73" stroke="#a63a55" stroke-width="0.7" stroke-linecap="round"/>
<path d="M553.72 266.73L554.91 267.82" stroke="#a63a55" stroke-width="0.7" stroke-linecap="round"/>
<path d="M553.72 266.73L553.89 268.33" stroke="#a63a55" stroke-width="0.7" stroke-linecap="round"/>
<path d="M550.21 262.46L549.47 266.36" stroke="#a63a55" stroke-width="0.83" stroke-linecap="round"/>
<path d="M549.47 266.36L549.7 269.09" stroke="#a63a55" stroke-width="0.7" stroke-linecap="round"/>
<path d="M549.7 269.09L550.73 270.92" stroke="#a63a55" stroke-width="0.7" stroke-linecap="round"/>
<path d="M549.7 269.09L549.14 270.98" stroke="#a63a55" stroke-width="0.7" stroke-linecap="round"/>
<path d="M549.47 266.36L547.75 268.2" stroke="#a63a55" stroke-width="0.7" stroke-linecap="round"/>
<path d="M547.75 268.2L547.14 270.06" stroke="#a63a55" stroke-width="0.7" stroke-linecap="round"/>
<path d="M547.75 268.2L546.05 269.27" stroke="#a63a55" stroke-width="0.7" stroke-linecap="round"/>
<path d="M540 252L536.92 260.46" stroke="#a63a55" stroke-width="1.7" stroke-linecap="round"/>
<path d="M536.92 260.46L536.98 266.44" stroke="#a63a55" stroke-width="1.19" stroke-linecap="round"/>
<path d="M536.98 266.44L538.57 270.63" stroke="#a63a55" stroke-width="0.83" stroke-linecap="round"/>
<path d="M538.57 270.63L540.93 272.93" stroke="#a63a55" stroke-width="0.7" stroke-linecap="round"/>
<path d="M540.93 272.93L543.18 274.12" stroke="#a63a55" stroke-width="0.7" stroke-linecap="round"/>
<path d="M540.93 272.93L541.54 275.23" stroke="#a63a55" stroke-width="0.7" stroke-linecap="round"/>
<path d="M538.57 270.63L538.66 273.38" stroke="#a63a55" stroke-width="0.7" stroke-linecap="round"/>
<path d="M538.66 273.38L539.33 274.79" stroke="#a63a55" stroke-width="0.7" stroke-linecap="round"/>
<path d="M538.66 273.38L537.72 274.91" stroke="#a63a55" stroke-width="0.7" stroke-linecap="round"/>
<path d="M536.98 266.44L535.05 269.43" stroke="#a63a55" stroke-width="0.83" stroke-linecap="round"/>
<path d="M535.05 269.43L535 272.09" stroke="#a63a55" stroke-width="0.7" stroke-linecap="round"/>
<path d="M534.8 272.09L535.44 273.71" stroke="#a63a55" stroke-width="0.7" stroke-linecap="round"/>
<path d="M534.8 272.09L535 273.74" stroke="#a63a55" stroke-width="0.7" stroke-linecap="round"/>
<path d="M535.05 269.43L535 271.04" stroke="#a63a55" stroke-width="0.7" stroke-linecap="round"/>
<path d="M536.92 260.46L535 265.05" stroke="#a63a55" stroke-width="1.19" stroke-linecap="round"/>
<path d="M533.71 265.05L535 268.1" stroke="#a63a55" stroke-width="0.83" stroke-linecap="round"/>
<path d="M532.58 268.1L535 270.04" stroke="#a63a55" stroke-width="0.7" stroke-linecap="round"/>
<path d="M532.76 270.04L535 271.11" stroke="#a63a55" stroke-width="0.7" stroke-linecap="round"/>
<path d="M544 249L551.88 250.39" stroke="#a63a55" stroke-width="1.5" stroke-linecap="round"/>
<path d="M551.88 250.39L557.06 249.83" stroke="#a63a55" stroke-width="1.05" stroke-linecap="round"/>
<path d="M557.06 249.83L558 247.59" stroke="#a63a55" stroke-width="0.73" stroke-linecap="round"/>
<path d="M551.88 250.39L556.4 252.46" stroke="#a63a55" stroke-width="1.05" stroke-linecap="round"/>
<path d="M556.4 252.46L558 252.27" stroke="#a63a55" stroke-width="0.73" stroke-linecap="round"/>
<path d="M556.4 252.46L558 254.86" stroke="#a63a55" stroke-width="0.73" stroke-linecap="round"/>
<circle cx="53.08" cy="387.96" r="2.53" fill="#f0b431"/><circle cx="49.74" cy="391.96" r="2.28" fill="#f3bf3f"/><circle cx="60.86" cy="386.97" r="2.38" fill="#e8a82a"/><circle cx="41.23" cy="387.03" r="1.83" fill="#f0b431"/><circle cx="38.12" cy="390.22" r="1.7" fill="#e39c1e"/><circle cx="60.53" cy="389.24" r="1.72" fill="#eaa526"/><circle cx="65.51" cy="387.54" r="1.91" fill="#f3bf3f"/><circle cx="70.08" cy="382.72" r="2.19" fill="#f0b431"/><circle cx="55.42" cy="390.49" r="2.38" fill="#eaa526"/><circle cx="55.99" cy="386.04" r="1.72" fill="#e8a82a"/><circle cx="51.08" cy="387.38" r="2.27" fill="#f3bf3f"/><circle cx="55.48" cy="387.64" r="1.72" fill="#f0b431"/><circle cx="71.15" cy="387.47" r="2.1" fill="#e39c1e"/><circle cx="67.18" cy="384.79" r="2.03" fill="#e39c1e"/><circle cx="44.46" cy="385.72" r="2.32" fill="#e8a82a"/><circle cx="42.46" cy="386.28" r="2.8" fill="#eaa526"/><circle cx="54.68" cy="382.75" r="2.2" fill="#f3bf3f"/><circle cx="43.36" cy="388.19" r="2.65" fill="#f0b431"/><circle cx="42.41" cy="389.08" r="1.65" fill="#e39c1e"/><circle cx="53.94" cy="387.27" r="2.62" fill="#e8a82a"/><circle cx="52.53" cy="382.78" r="1.99" fill="#f3bf3f"/><circle cx="61.09" cy="389.86" r="1.94" fill="#f0b431"/><circle cx="52.73" cy="386.72" r="1.85" fill="#f0b431"/><circle cx="68.83" cy="381.47" r="1.98" fill="#e39c1e"/><circle cx="42.46" cy="389.95" r="2.3" fill="#f0b431"/><circle cx="58.29" cy="391.54" r="3" fill="#e8a82a"/><circle cx="41.57" cy="391.1" r="2.83" fill="#e39c1e"/><circle cx="59.02" cy="382.69" r="2.34" fill="#f3bf3f"/><circle cx="53.63" cy="384.37" r="2.56" fill="#f3bf3f"/><circle cx="68.2" cy="382.78" r="2.01" fill="#eaa526"/><circle cx="46.02" cy="391.36" r="2.32" fill="#f3bf3f"/><circle cx="61.37" cy="382.57" r="2" fill="#e39c1e"/><circle cx="37.03" cy="385.3" r="1.64" fill="#e8a82a"/><circle cx="67.91" cy="385.19" r="1.94" fill="#f3bf3f"/><circle cx="52.98" cy="380.99" r="2.4" fill="#e39c1e"/><circle cx="63.38" cy="384.91" r="2.42" fill="#f3bf3f"/><circle cx="64.41" cy="386.69" r="2.09" fill="#e39c1e"/><circle cx="58.97" cy="384.5" r="1.83" fill="#f0b431"/><circle cx="68.54" cy="388.75" r="2.86" fill="#f3bf3f"/><circle cx="55.26" cy="389.4" r="2.13" fill="#eaa526"/><circle cx="61.57" cy="382.29" r="1.98" fill="#e8a82a"/><circle cx="53.7" cy="387.39" r="1.9" fill="#e8a82a"/><circle cx="61.22" cy="384.61" r="1.94" fill="#f3bf3f"/><circle cx="48.81" cy="381.92" r="2.07" fill="#eaa526"/><circle cx="61.95" cy="383.68" r="1.85" fill="#f3bf3f"/><circle cx="49.16" cy="381.27" r="2.28" fill="#f3bf3f"/><circle cx="53.47" cy="380.91" r="2.43" fill="#f3bf3f"/><circle cx="44.58" cy="385.34" r="2.92" fill="#eaa526"/><circle cx="70.7" cy="385" r="2.79" fill="#f3bf3f"/><circle cx="46.66" cy="386.92" r="1.81" fill="#e39c1e"/><circle cx="41.84" cy="387.13" r="2.45" fill="#f0b431"/><circle cx="52.57" cy="389.48" r="1.67" fill="#f0b431"/><circle cx="50.67" cy="388.58" r="2.71" fill="#e8a82a"/><circle cx="60.24" cy="387.7" r="2.96" fill="#e8a82a"/><circle cx="56.53" cy="383.71" r="2.67" fill="#eaa526"/><circle cx="47.6" cy="386.64" r="2.11" fill="#e39c1e"/><circle cx="42.13" cy="387.19" r="2.72" fill="#f0b431"/><circle cx="45.07" cy="382.46" r="2.73" fill="#e39c1e"/><circle cx="50.71" cy="387.77" r="2" fill="#e8a82a"/><circle cx="47.55" cy="382.65" r="2.5" fill="#e8a82a"/><circle cx="64.66" cy="384.55" r="2.19" fill="#e39c1e"/><circle cx="48.23" cy="389.48" r="2.29" fill="#f3bf3f"/><circle cx="65.33" cy="382.55" r="2.7" fill="#e39c1e"/><circle cx="39.95" cy="385.97" r="2.84" fill="#e39c1e"/><circle cx="71.29" cy="389.5" r="2.68" fill="#e39c1e"/><circle cx="65.99" cy="382.92" r="2.83" fill="#eaa526"/><circle cx="56" cy="380.55" r="2.73" fill="#f0b431"/><circle cx="41.88" cy="389.29" r="2.02" fill="#f0b431"/><circle cx="71.34" cy="388.36" r="2.36" fill="#eaa526"/><circle cx="57.85" cy="381.2" r="2.56" fill="#e8a82a"/>
<path d="M56 391 C56.5 405 56.3 425 56.8 446" stroke="#e8a82a" stroke-width="1.7" fill="none"/>
<path d="M53.6 448.5 L56.8 443.5 L60 448.5 Z" fill="#e8a82a"/>
<path d="M56 392 L50 386 M56 392 L62 385 M56 393 L46 390 M56 391 L57 383" stroke="#c98a1a" stroke-width="0.6" fill="none"/>
<path d="M273.34 423.55 L275.05 421.36 L273.73 419.38 L275.7 417.52 L273.14 415.14 L278.99 414.52 L274.27 411.19 L277.57 410.43 L274.89 407.11 L278.49 407.01 L275.2 402.67 L279.2 403.38 L278.32 400.36 L279.9 399.5 L279.85 396.93 L282.31 397.34 L280.57 392.19 L285.1 396.17 L282.97 389.51 L286.66 393.18 L286.39 389.11 L288.32 389.88 L288.06 384.67 L291.34 390.22 L291.04 383.55 L293.58 388.29 L294.18 383.68 L296.27 388.76 L297.07 383.05 L298.66 385.94 L300 381.55 L301.61 386.66 L303.64 382.44 L304.97 385.95 L307.11 383.72 L307.75 388.66 L310.41 385.33 L310.94 389.21 L314.09 385.88 L313.2 392.14 L317.8 386.95 L315.74 394.1 L320.85 389.44 L318.59 395.66 L322 394.24 L321.37 397.61 L325.28 396.33 L322.65 401.09 L327.98 399.27 L323.35 404.74 L330.41 402.61 L326.29 407.01 L330.85 407.04 L327.56 410.38 L332.34 410.94 L329.64 413.67 L332.12 415.25 L326.81 417.77 L331.74 419.39 L326.5 421.18 L333.42 423.64 L328 421 L312 424 L298 426 L284 423 L274 419Z" fill="#b2c8ec" opacity="0.95"/>
<g clip-path="url(#fanclip)"><path d="M284.62 418.71 L278.44 418.19 L273.86 417.8M282.09 415.73 L278.7 414.92 L274.18 413.85M281.98 412.87 L279.21 411.77 L274.79 410.02M285.4 412.39 L279.74 409.45 L275.44 407.21M286.31 410.44 L280.65 406.49 L276.54 403.62M285.82 406.63 L282.05 403.08 L278.24 399.49M286.66 404.11 L283.51 400.36 L280.01 396.18M288.37 402.16 L285.4 397.6 L282.3 392.84M289.98 401.13 L287.07 395.65 L284.32 390.48M290.87 399.07 L288.7 394.09 L286.3 388.59M291.97 396.17 L290.74 392.53 L288.77 386.7M295.26 398.59 L293.58 390.98 L292.21 384.81M295.6 394.62 L294.88 390.47 L293.8 384.19M298.6 397.41 L298.13 389.71 L297.73 383.28M299.67 398.47 L299.53 389.61 L299.43 383.15M302.6 397.16 L303.43 389.86 L304.16 383.45M304.2 394.63 L304.94 390.14 L305.99 383.79M307.24 395.16 L308.39 391.18 L310.18 385.05M309.69 396.54 L311.34 392.55 L313.75 386.71M310.66 399.85 L313.73 394.04 L316.65 388.52M311.48 403.49 L316.5 396.26 L320 391.22M315.39 401.46 L318.25 398.03 L322.12 393.36M313.82 406.34 L320.03 400.2 L324.29 396M318.82 405.73 L322.05 403.28 L326.74 399.73M317.03 408.9 L322.98 405.03 L327.86 401.85M320.14 410 L324.24 407.96 L329.39 405.4M319.67 413.57 L325.4 411.7 L330.79 409.94M321.73 415.39 L325.96 414.49 L331.48 413.32M319.9 418.47 L326.34 417.98 L331.94 417.55M318.72 421.25 L326.36 421.76 L331.96 422.14" stroke="#8a80aa" stroke-width="0.7" fill="none" opacity="0.7"/><path d="M293.73 420.52 L290.76 420.37 L287.35 418.92 L283.06 420.71 L280.05 420.59 L275.6 419.69 L272.49 419.81M281.08 419.8L278.35 422.03M284.78 419.84L280.78 417.8M292.55 417.91 L290.69 417.78 L286.02 418.78 L283.98 416.84 L280.81 416.8 L276.89 415.58 L274.06 416.01M277.52 416.33L274.78 414.31M285.03 417.56L281.95 418.82M293.61 418.33 L289.26 416.58 L286.44 416.21 L282.91 414.72 L279.6 413.24 L277.83 413.58 L273.38 411.45M281.77 414.21L278.93 411.47M286.75 415.79L283.11 417.6M293.05 417.81 L290.26 415.78 L287.9 413.85 L283.82 413.11 L281.23 411.25 L277.04 409.97 L275.18 408.11M282.48 412.32L280.87 409.38M278.77 410.69L275.56 411.42M293.1 416.61 L291.7 413.67 L286.71 413.43 L284.58 410.39 L280.89 408.88 L278.97 406.72 L275.06 404.03M279.66 407.63L276.49 408.65M285.81 411.37L281.47 412.45M293.5 415.82 L290.89 412.61 L289.4 410.97 L286.46 407.74 L282.58 405.86 L279.67 402.55 L276.62 399.83M285.35 407.7L281.62 408.12M285.66 407.96L281.88 408.19M293.75 414.84 L291.65 411.55 L288.32 408.11 L286.69 405.96 L284.55 402.28 L282.16 400.31 L279.42 396.68M287.91 407.06L283.48 406.79M286.8 405.88L285.31 401.59M294.88 413.63 L293.25 410.67 L290.07 407.38 L288.7 403.74 L286.5 400.95 L283.18 396.77 L280.07 394.05M284.05 397.96L283.3 395.36M285.84 400.44L284.42 396.22M295.52 412.95 L294.07 409.32 L291.8 404.45 L288.52 401.63 L287.34 397.53 L285.26 394.71 L281.81 390.74M290 403.08L287.24 402.75M285.51 395.5L284.95 392.97M296.4 412.36 L293.73 409.07 L291.35 404.16 L289.99 400.26 L287.75 397.19 L286.35 391.69 L284.91 387.89M289.42 398.38L289.99 395.2M290.46 400.5L286.29 398.73M296.08 411.83 L295.32 408.38 L294.52 403.5 L291.68 399.89 L289.38 394.14 L288.9 390.98 L286.45 386.83M289.58 392.85L289.96 387.93M291.37 397.51L292.37 394.21M297.85 410.61 L297.45 406.63 L295.15 401.82 L295.11 397.71 L292.55 393.22 L291.05 389.06 L290.52 383.95M292.75 392.43L292.95 388.6M294.42 398.77L295.51 395.85M299.04 410.49 L297.31 406.3 L296.41 402.01 L295.64 396.49 L294.7 392.3 L293.28 387.83 L291.83 383.66M294.86 395.89L296.54 391.68M295.76 400.11L293.17 397.56M299.15 409.62 L299.15 405.74 L298.28 401.6 L297.92 396.44 L298.01 391.55 L296.51 387.78 L295.65 381.96M297.04 390.25L295.5 388.27M297.11 390.92L298.93 387.73M299.89 411.3 L300.19 405.87 L298.85 401.14 L297.85 396.78 L298.03 390.75 L297.37 387.73 L297.66 381.96M298.95 400.14L300.44 397.99M298.41 389.88L295.4 386.46M301.63 410.94 L300.84 405.16 L300.65 401.66 L300.74 395.75 L302.04 391.91 L302.74 386.41 L302.71 381.35M301.64 395.77L300.77 393.19M301.9 391.97L304.92 388.18M301.51 409.89 L301.94 405.89 L303.06 401.28 L303.03 396 L303.46 391.27 L304.41 387.09 L303.74 381.82M302.82 396.28L305.26 392.77M303.26 392.54L302.03 390.26M302.12 410.63 L303.24 407.2 L303.64 401.76 L305.61 396.89 L307.33 393.43 L307.59 388.55 L309.34 382.56M307.24 390.02L309.64 388.48M306.35 393.69L309.08 391.96M303.74 410.97 L305.17 406.54 L305.89 402.7 L308.79 397.77 L308.52 394.64 L310.45 388.63 L311.72 383.95M307.12 400.15L307 395.42M308.42 396.52L311.03 393.94M303.77 411.57 L305.07 406.77 L307.15 403.03 L309.56 399.86 L311.05 394.42 L313.26 390.06 L315.24 386.03M310.48 397.63L310.29 393.26M309.57 399.58L308.82 395.46M304.05 412.62 L306.8 408.77 L310.08 403.89 L311.43 399.76 L313.89 396 L316.64 393.93 L318.97 388.75M312.77 399.51L317.09 397.02M312.77 399.51L313.23 396.52M305.83 412.34 L308 409.11 L311.13 404.94 L312.52 402.67 L316.82 398.53 L319.72 395.23 L321 391.81M311.46 404.67L314.27 403.35M311.14 405.09L313.74 404.71M306.25 414.19 L309.86 409.56 L312.33 407.17 L314.3 403.08 L318.77 400.92 L320.07 398.03 L323.21 392.93M318.05 400.19L318.83 396.89M315.48 403.01L318.28 402.57M307.02 415.15 L310.96 411.66 L312.56 408.7 L317.17 405.45 L319.74 402.37 L323.33 400.23 L326.97 398.07M322.29 401.1L323.83 397.71M315.6 406.77L316.62 402.18M307.5 414.65 L310.97 411.34 L313.49 410.67 L316.66 406.29 L320.16 405.06 L324.91 401.17 L326.92 399.43M314.95 409.03L318.25 409.22M316.9 407.6L318.9 403.92M307.92 415.9 L310.15 412.78 L314.05 411.29 L319.21 410.37 L322.41 406.82 L325.74 404.98 L329.24 402.17M320.84 408.13L321.96 405.63M320.28 408.45L321.55 405.88M307.67 416.6 L311.6 414.85 L315.81 413.21 L318.62 412.66 L322.74 410.74 L327.31 408.26 L330.48 408.43M323.11 410.92L324.23 408.59M321.92 411.38L325.1 412.55M308.67 417.4 L312.07 417.22 L316.62 415.32 L320.68 415.11 L324.4 414.19 L327.21 412.26 L331.79 410.45M318.73 414.85L321.6 415.37M317.16 415.28L319.75 416.78M308.56 419.6 L312.53 418.91 L316.14 416.77 L320.5 417.36 L323.94 416.4 L328.31 415.11 L332.39 415.26M321.84 417L325.85 418.98M323.03 416.83L326.37 413.82M308.61 420.1 L311.94 419.24 L315.67 419.82 L320.79 420.65 L325.18 419.77 L329.73 419.74 L333.43 419.36M325.2 420.16L328.25 423.08M326.18 420.17L328.45 418.66" stroke="#c8dcf6" stroke-width="1.1" fill="none" stroke-linecap="round"/></g>
<path d="M285 428 C283 421 285 412 292 408 C298 405 305 408 307 414 C309 420 308 427 304 429.5 C298 431 289 431 285 428 Z" fill="url(#q37)"/>
<path d="M522.5 447.8 C524 438 526 428 526.2 421.4 C527 412 528 405 528.1 402.6 C528.5 395 529 390 529 387.6 C530 383 531 380 531.9 377.2 M528 408 C522 404 512 402 505.5 402.6 M526 420 C531 417 536 416 541.3 416.7 M522.5 447 C518 438 513 430 509.3 425.2 M529.5 395 C532 397 534 398.5 536.6 398.9 M530 383 C527 381 525 380 524 379 M531 381 C534 380 536 381 537.5 382 M529 388 C526 386 524 384 523 383" stroke="#b3b68f" stroke-width="1.4" fill="none" stroke-linecap="round"/>
<path d="M522.5 447.8 C524 438 526 428 526.2 421.4" stroke="#b3b68f" stroke-width="2.2" fill="none"/>
<ellipse cx="530.9" cy="436.5" rx="1.8" ry="3.2" fill="#c2bf98"/><ellipse cx="531" cy="398" rx="2" ry="2.6" fill="#c2bf98"/><ellipse cx="526.5" cy="416" rx="1.3" ry="3" fill="#b0b48e"/><ellipse cx="506" cy="402.5" rx="2" ry="1.5" fill="#b3b68f"/><ellipse cx="541" cy="416.5" rx="2" ry="1.5" fill="#b3b68f"/><ellipse cx="509.5" cy="425" rx="1.8" ry="1.4" fill="#b3b68f"/><ellipse cx="537" cy="399" rx="1.8" ry="1.4" fill="#b3b68f"/><ellipse cx="532" cy="378" rx="2.5" ry="2" fill="#b3b68f"/><ellipse cx="523" cy="447.5" rx="2.8" ry="1.4" fill="#b3b68f"/>
<path d="M30 173.6V291.2H220" fill="none" stroke="#7c7c7c" stroke-width="1"/><path d="M30 286.19h3M30 282.76h3M30 279.95h3M34.89 291.2v-3M30 277.58h3M39.03 291.2v-3M30 275.53h3M42.61 291.2v-3M30 273.72h3M45.77 291.2v-3M30 272.1h5.5M48.6 291.2v-5.5M30 261.44h3M67.2 291.2v-3M30 255.21h3M78.09 291.2v-3M30 250.79h3M85.81 291.2v-3M30 247.36h3M91.8 291.2v-3M30 244.55h3M96.69 291.2v-3M30 242.18h3M100.83 291.2v-3M30 240.13h3M104.41 291.2v-3M30 238.32h3M107.57 291.2v-3M30 236.7h5.5M110.4 291.2v-5.5M30 226.04h3M129 291.2v-3M30 219.81h3M139.89 291.2v-3M30 215.39h3M147.61 291.2v-3M30 211.96h3M153.6 291.2v-3M30 209.15h3M158.49 291.2v-3M30 206.78h3M162.63 291.2v-3M30 204.73h3M166.21 291.2v-3M30 202.92h3M169.37 291.2v-3M30 201.3h5.5M172.2 291.2v-5.5M30 190.64h3M190.8 291.2v-3M30 184.41h3M201.69 291.2v-3M30 179.99h3M209.41 291.2v-3M30 176.56h3M215.4 291.2v-3M30 173.75h3M220.29 291.2v-3" fill="none" stroke="#7c7c7c" stroke-width="0.8"/>
<text x="13.68" y="204.3" font-size="8.2" fill="#222222">10<tspan x="23" font-size="5.4" dy="-3.0">0</tspan></text>
<text x="10.53" y="239.7" font-size="8.2" fill="#222222">10<tspan x="19.84" font-size="5.4" dy="-3.0">−1</tspan></text>
<text x="10.53" y="275.1" font-size="8.2" fill="#222222">10<tspan x="19.84" font-size="5.4" dy="-3.0">−2</tspan></text>
<text x="40.86" y="302.7" font-size="8.2" fill="#222222">10<tspan x="50.18" font-size="5.4" dy="-3.0">−2</tspan></text>
<text x="102.66" y="302.7" font-size="8.2" fill="#222222">10<tspan x="111.98" font-size="5.4" dy="-3.0">−1</tspan></text>
<text x="166.04" y="302.7" font-size="8.2" fill="#222222">10<tspan x="175.36" font-size="5.4" dy="-3.0">0</tspan></text>
<path d="M30 337.2V455.3H220" fill="none" stroke="#7c7c7c" stroke-width="1"/><path d="M30 450.59h3M30 447.16h3M30 444.35h3M34.89 455.3v-3M30 441.98h3M39.03 455.3v-3M30 439.93h3M42.61 455.3v-3M30 438.12h3M45.77 455.3v-3M30 436.5h5.5M48.6 455.3v-5.5M30 425.84h3M67.2 455.3v-3M30 419.61h3M78.09 455.3v-3M30 415.19h3M85.81 455.3v-3M30 411.76h3M91.8 455.3v-3M30 408.95h3M96.69 455.3v-3M30 406.58h3M100.83 455.3v-3M30 404.53h3M104.41 455.3v-3M30 402.72h3M107.57 455.3v-3M30 401.1h5.5M110.4 455.3v-5.5M30 390.44h3M129 455.3v-3M30 384.21h3M139.89 455.3v-3M30 379.79h3M147.61 455.3v-3M30 376.36h3M153.6 455.3v-3M30 373.55h3M158.49 455.3v-3M30 371.18h3M162.63 455.3v-3M30 369.13h3M166.21 455.3v-3M30 367.32h3M169.37 455.3v-3M30 365.7h5.5M172.2 455.3v-5.5M30 355.04h3M190.8 455.3v-3M30 348.81h3M201.69 455.3v-3M30 344.39h3M209.41 455.3v-3M30 340.96h3M215.4 455.3v-3M30 338.15h3M220.29 455.3v-3" fill="none" stroke="#7c7c7c" stroke-width="0.8"/>
<text x="13.68" y="368.7" font-size="8.2" fill="#222222">10<tspan x="23" font-size="5.4" dy="-3.0">0</tspan></text>
<text x="10.53" y="404.1" font-size="8.2" fill="#222222">10<tspan x="19.84" font-size="5.4" dy="-3.0">−1</tspan></text>
<text x="10.53" y="439.5" font-size="8.2" fill="#222222">10<tspan x="19.84" font-size="5.4" dy="-3.0">−2</tspan></text>
<text x="40.86" y="466.8" font-size="8.2" fill="#222222">10<tspan x="50.18" font-size="5.4" dy="-3.0">−2</tspan></text>
<text x="102.66" y="466.8" font-size="8.2" fill="#222222">10<tspan x="111.98" font-size="5.4" dy="-3.0">−1</tspan></text>
<text x="166.04" y="466.8" font-size="8.2" fill="#222222">10<tspan x="175.36" font-size="5.4" dy="-3.0">0</tspan></text>
<path d="M262.5 173.6V291.2H452.5" fill="none" stroke="#7c7c7c" stroke-width="1"/><path d="M262.5 286.19h3M262.5 282.76h3M262.5 279.95h3M267.39 291.2v-3M262.5 277.58h3M271.53 291.2v-3M262.5 275.53h3M275.11 291.2v-3M262.5 273.72h3M278.27 291.2v-3M262.5 272.1h5.5M281.1 291.2v-5.5M262.5 261.44h3M299.7 291.2v-3M262.5 255.21h3M310.59 291.2v-3M262.5 250.79h3M318.31 291.2v-3M262.5 247.36h3M324.3 291.2v-3M262.5 244.55h3M329.19 291.2v-3M262.5 242.18h3M333.33 291.2v-3M262.5 240.13h3M336.91 291.2v-3M262.5 238.32h3M340.07 291.2v-3M262.5 236.7h5.5M342.9 291.2v-5.5M262.5 226.04h3M361.5 291.2v-3M262.5 219.81h3M372.39 291.2v-3M262.5 215.39h3M380.11 291.2v-3M262.5 211.96h3M386.1 291.2v-3M262.5 209.15h3M390.99 291.2v-3M262.5 206.78h3M395.13 291.2v-3M262.5 204.73h3M398.71 291.2v-3M262.5 202.92h3M401.87 291.2v-3M262.5 201.3h5.5M404.7 291.2v-5.5M262.5 190.64h3M423.3 291.2v-3M262.5 184.41h3M434.19 291.2v-3M262.5 179.99h3M441.91 291.2v-3M262.5 176.56h3M447.9 291.2v-3M262.5 173.75h3M452.79 291.2v-3" fill="none" stroke="#7c7c7c" stroke-width="0.8"/>
<text x="246.18" y="204.3" font-size="8.2" fill="#222222">10<tspan x="255.5" font-size="5.4" dy="-3.0">0</tspan></text>
<text x="243.03" y="239.7" font-size="8.2" fill="#222222">10<tspan x="252.34" font-size="5.4" dy="-3.0">−1</tspan></text>
<text x="243.03" y="275.1" font-size="8.2" fill="#222222">10<tspan x="252.34" font-size="5.4" dy="-3.0">−2</tspan></text>
<text x="273.36" y="302.7" font-size="8.2" fill="#222222">10<tspan x="282.68" font-size="5.4" dy="-3.0">−2</tspan></text>
<text x="335.16" y="302.7" font-size="8.2" fill="#222222">10<tspan x="344.48" font-size="5.4" dy="-3.0">−1</tspan></text>
<text x="398.54" y="302.7" font-size="8.2" fill="#222222">10<tspan x="407.86" font-size="5.4" dy="-3.0">0</tspan></text>
<path d="M262.5 337.2V455.3H452.5" fill="none" stroke="#7c7c7c" stroke-width="1"/><path d="M262.5 450.59h3M262.5 447.16h3M262.5 444.35h3M267.39 455.3v-3M262.5 441.98h3M271.53 455.3v-3M262.5 439.93h3M275.11 455.3v-3M262.5 438.12h3M278.27 455.3v-3M262.5 436.5h5.5M281.1 455.3v-5.5M262.5 425.84h3M299.7 455.3v-3M262.5 419.61h3M310.59 455.3v-3M262.5 415.19h3M318.31 455.3v-3M262.5 411.76h3M324.3 455.3v-3M262.5 408.95h3M329.19 455.3v-3M262.5 406.58h3M333.33 455.3v-3M262.5 404.53h3M336.91 455.3v-3M262.5 402.72h3M340.07 455.3v-3M262.5 401.1h5.5M342.9 455.3v-5.5M262.5 390.44h3M361.5 455.3v-3M262.5 384.21h3M372.39 455.3v-3M262.5 379.79h3M380.11 455.3v-3M262.5 376.36h3M386.1 455.3v-3M262.5 373.55h3M390.99 455.3v-3M262.5 371.18h3M395.13 455.3v-3M262.5 369.13h3M398.71 455.3v-3M262.5 367.32h3M401.87 455.3v-3M262.5 365.7h5.5M404.7 455.3v-5.5M262.5 355.04h3M423.3 455.3v-3M262.5 348.81h3M434.19 455.3v-3M262.5 344.39h3M441.91 455.3v-3M262.5 340.96h3M447.9 455.3v-3M262.5 338.15h3M452.79 455.3v-3" fill="none" stroke="#7c7c7c" stroke-width="0.8"/>
<text x="246.18" y="368.7" font-size="8.2" fill="#222222">10<tspan x="255.5" font-size="5.4" dy="-3.0">0</tspan></text>
<text x="243.03" y="404.1" font-size="8.2" fill="#222222">10<tspan x="252.34" font-size="5.4" dy="-3.0">−1</tspan></text>
<text x="243.03" y="439.5" font-size="8.2" fill="#222222">10<tspan x="252.34" font-size="5.4" dy="-3.0">−2</tspan></text>
<text x="273.36" y="466.8" font-size="8.2" fill="#222222">10<tspan x="282.68" font-size="5.4" dy="-3.0">−2</tspan></text>
<text x="335.16" y="466.8" font-size="8.2" fill="#222222">10<tspan x="344.48" font-size="5.4" dy="-3.0">−1</tspan></text>
<text x="398.54" y="466.8" font-size="8.2" fill="#222222">10<tspan x="407.86" font-size="5.4" dy="-3.0">0</tspan></text>
<path d="M494.4 173.6V291.2H684.4" fill="none" stroke="#7c7c7c" stroke-width="1"/><path d="M494.4 286.19h3M494.4 282.76h3M494.4 279.95h3M499.29 291.2v-3M494.4 277.58h3M503.43 291.2v-3M494.4 275.53h3M507.01 291.2v-3M494.4 273.72h3M510.17 291.2v-3M494.4 272.1h5.5M513 291.2v-5.5M494.4 261.44h3M531.6 291.2v-3M494.4 255.21h3M542.49 291.2v-3M494.4 250.79h3M550.21 291.2v-3M494.4 247.36h3M556.2 291.2v-3M494.4 244.55h3M561.09 291.2v-3M494.4 242.18h3M565.23 291.2v-3M494.4 240.13h3M568.81 291.2v-3M494.4 238.32h3M571.97 291.2v-3M494.4 236.7h5.5M574.8 291.2v-5.5M494.4 226.04h3M593.4 291.2v-3M494.4 219.81h3M604.29 291.2v-3M494.4 215.39h3M612.01 291.2v-3M494.4 211.96h3M618 291.2v-3M494.4 209.15h3M622.89 291.2v-3M494.4 206.78h3M627.03 291.2v-3M494.4 204.73h3M630.61 291.2v-3M494.4 202.92h3M633.77 291.2v-3M494.4 201.3h5.5M636.6 291.2v-5.5M494.4 190.64h3M655.2 291.2v-3M494.4 184.41h3M666.09 291.2v-3M494.4 179.99h3M673.81 291.2v-3M494.4 176.56h3M679.8 291.2v-3M494.4 173.75h3M684.69 291.2v-3" fill="none" stroke="#7c7c7c" stroke-width="0.8"/>
<text x="478.08" y="204.3" font-size="8.2" fill="#222222">10<tspan x="487.4" font-size="5.4" dy="-3.0">0</tspan></text>
<text x="474.93" y="239.7" font-size="8.2" fill="#222222">10<tspan x="484.24" font-size="5.4" dy="-3.0">−1</tspan></text>
<text x="474.93" y="275.1" font-size="8.2" fill="#222222">10<tspan x="484.24" font-size="5.4" dy="-3.0">−2</tspan></text>
<text x="505.26" y="302.7" font-size="8.2" fill="#222222">10<tspan x="514.58" font-size="5.4" dy="-3.0">−2</tspan></text>
<text x="567.06" y="302.7" font-size="8.2" fill="#222222">10<tspan x="576.38" font-size="5.4" dy="-3.0">−1</tspan></text>
<text x="630.44" y="302.7" font-size="8.2" fill="#222222">10<tspan x="639.76" font-size="5.4" dy="-3.0">0</tspan></text>
<path d="M494.4 335.8V453.9H684.4" fill="none" stroke="#7c7c7c" stroke-width="1"/><path d="M494.4 449.19h3M494.4 445.76h3M494.4 442.95h3M499.29 453.9v-3M494.4 440.58h3M503.43 453.9v-3M494.4 438.53h3M507.01 453.9v-3M494.4 436.72h3M510.17 453.9v-3M494.4 435.1h5.5M513 453.9v-5.5M494.4 424.44h3M531.6 453.9v-3M494.4 418.21h3M542.49 453.9v-3M494.4 413.79h3M550.21 453.9v-3M494.4 410.36h3M556.2 453.9v-3M494.4 407.55h3M561.09 453.9v-3M494.4 405.18h3M565.23 453.9v-3M494.4 403.13h3M568.81 453.9v-3M494.4 401.32h3M571.97 453.9v-3M494.4 399.7h5.5M574.8 453.9v-5.5M494.4 389.04h3M593.4 453.9v-3M494.4 382.81h3M604.29 453.9v-3M494.4 378.39h3M612.01 453.9v-3M494.4 374.96h3M618 453.9v-3M494.4 372.15h3M622.89 453.9v-3M494.4 369.78h3M627.03 453.9v-3M494.4 367.73h3M630.61 453.9v-3M494.4 365.92h3M633.77 453.9v-3M494.4 364.3h5.5M636.6 453.9v-5.5M494.4 353.64h3M655.2 453.9v-3M494.4 347.41h3M666.09 453.9v-3M494.4 342.99h3M673.81 453.9v-3M494.4 339.56h3M679.8 453.9v-3M494.4 336.75h3M684.69 453.9v-3" fill="none" stroke="#7c7c7c" stroke-width="0.8"/>
<text x="478.08" y="367.3" font-size="8.2" fill="#222222">10<tspan x="487.4" font-size="5.4" dy="-3.0">0</tspan></text>
<text x="474.93" y="402.7" font-size="8.2" fill="#222222">10<tspan x="484.24" font-size="5.4" dy="-3.0">−1</tspan></text>
<text x="474.93" y="438.1" font-size="8.2" fill="#222222">10<tspan x="484.24" font-size="5.4" dy="-3.0">−2</tspan></text>
<text x="505.26" y="465.4" font-size="8.2" fill="#222222">10<tspan x="514.58" font-size="5.4" dy="-3.0">−2</tspan></text>
<text x="567.06" y="465.4" font-size="8.2" fill="#222222">10<tspan x="576.38" font-size="5.4" dy="-3.0">−1</tspan></text>
<text x="630.44" y="465.4" font-size="8.2" fill="#222222">10<tspan x="639.76" font-size="5.4" dy="-3.0">0</tspan></text>
<path d="M494.4 7.4V124.9H684.4" fill="none" stroke="#7c7c7c" stroke-width="1"/><path d="M494.4 120.49h3M494.4 117.06h3M494.4 114.25h3M499.29 124.9v-3M494.4 111.88h3M503.43 124.9v-3M494.4 109.83h3M507.01 124.9v-3M494.4 108.02h3M510.17 124.9v-3M494.4 106.4h5.5M513 124.9v-5.5M494.4 95.74h3M531.6 124.9v-3M494.4 89.51h3M542.49 124.9v-3M494.4 85.09h3M550.21 124.9v-3M494.4 81.66h3M556.2 124.9v-3M494.4 78.85h3M561.09 124.9v-3M494.4 76.48h3M565.23 124.9v-3M494.4 74.43h3M568.81 124.9v-3M494.4 72.62h3M571.97 124.9v-3M494.4 71h5.5M574.8 124.9v-5.5M494.4 60.34h3M593.4 124.9v-3M494.4 54.11h3M604.29 124.9v-3M494.4 49.69h3M612.01 124.9v-3M494.4 46.26h3M618 124.9v-3M494.4 43.45h3M622.89 124.9v-3M494.4 41.08h3M627.03 124.9v-3M494.4 39.03h3M630.61 124.9v-3M494.4 37.22h3M633.77 124.9v-3M494.4 35.6h5.5M636.6 124.9v-5.5M494.4 24.94h3M655.2 124.9v-3M494.4 18.71h3M666.09 124.9v-3M494.4 14.29h3M673.81 124.9v-3M494.4 10.86h3M679.8 124.9v-3M494.4 8.05h3M684.69 124.9v-3" fill="none" stroke="#7c7c7c" stroke-width="0.8"/>
<text x="478.08" y="38.6" font-size="8.2" fill="#222222">10<tspan x="487.4" font-size="5.4" dy="-3.0">0</tspan></text>
<text x="474.93" y="74" font-size="8.2" fill="#222222">10<tspan x="484.24" font-size="5.4" dy="-3.0">−1</tspan></text>
<text x="474.93" y="109.4" font-size="8.2" fill="#222222">10<tspan x="484.24" font-size="5.4" dy="-3.0">−2</tspan></text>
<text x="505.26" y="136.4" font-size="8.2" fill="#222222">10<tspan x="514.58" font-size="5.4" dy="-3.0">−2</tspan></text>
<text x="567.06" y="136.4" font-size="8.2" fill="#222222">10<tspan x="576.38" font-size="5.4" dy="-3.0">−1</tspan></text>
<text x="630.44" y="136.4" font-size="8.2" fill="#222222">10<tspan x="639.76" font-size="5.4" dy="-3.0">0</tspan></text>
<text x="220" y="169.2" font-size="7.9" fill="#222222" text-anchor="end" >Human neuron</text>
<text x="452" y="169.2" font-size="7.9" fill="#222222" text-anchor="end" >Fruit fly neuron</text>
<text x="684" y="169.2" font-size="7.9" fill="#222222" text-anchor="end" >Blood vessel</text>
<text x="220" y="332.9" font-size="7.9" fill="#222222" text-anchor="end" >Tropical tree</text>
<text x="452" y="332.9" font-size="7.9" fill="#222222" text-anchor="end" >Coral</text>
<text x="684" y="332.2" font-size="7.9" fill="#222222" text-anchor="end" >Arabidopsis</text>
<text x="38.9" y="178.4" font-size="7.8" fill="#222222"><tspan font-style="italic">P</tspan>(<tspan font-style="italic">λ</tspan></text>
<path d="M52.64 176.37H59.82M58.22 175.27L59.82 176.37L58.22 177.47" stroke="#222222" stroke-width="0.55" fill="none"/>
<text x="62.16" y="178.4" font-size="7.8" fill="#222222">0) ≈ 0.276</text>
<text x="268.8" y="178.4" font-size="7.8" fill="#222222"><tspan font-style="italic">P</tspan>(<tspan font-style="italic">λ</tspan></text>
<path d="M282.54 176.37H289.72M288.12 175.27L289.72 176.37L288.12 177.47" stroke="#222222" stroke-width="0.55" fill="none"/>
<text x="292.06" y="178.4" font-size="7.8" fill="#222222">0) ≈ 0.673</text>
<text x="499.7" y="178.4" font-size="7.8" fill="#222222"><tspan font-style="italic">P</tspan>(<tspan font-style="italic">λ</tspan></text>
<path d="M513.44 176.37H520.62M519.02 175.27L520.62 176.37L519.02 177.47" stroke="#222222" stroke-width="0.55" fill="none"/>
<text x="522.96" y="178.4" font-size="7.8" fill="#222222">0) ≈ 0.601</text>
<text x="35" y="348.6" font-size="7.8" fill="#222222"><tspan font-style="italic">P</tspan>(<tspan font-style="italic">λ</tspan></text>
<path d="M48.74 346.57H55.92M54.32 345.47L55.92 346.57L54.32 347.67" stroke="#222222" stroke-width="0.55" fill="none"/>
<text x="58.26" y="348.6" font-size="7.8" fill="#222222">0) ≈ 2.130</text>
<text x="267" y="348.6" font-size="7.8" fill="#222222"><tspan font-style="italic">P</tspan>(<tspan font-style="italic">λ</tspan></text>
<path d="M280.74 346.57H287.92M286.32 345.47L287.92 346.57L286.32 347.67" stroke="#222222" stroke-width="0.55" fill="none"/>
<text x="290.26" y="348.6" font-size="7.8" fill="#222222">0) ≈ 1.150</text>
<text x="498.8" y="348.3" font-size="7.8" fill="#222222"><tspan font-style="italic">P</tspan>(<tspan font-style="italic">λ</tspan></text>
<path d="M512.54 346.27H519.72M518.12 345.17L519.72 346.27L518.12 347.37" stroke="#222222" stroke-width="0.55" fill="none"/>
<text x="522.06" y="348.3" font-size="7.8" fill="#222222">0) ≈ 0.629</text>
<text x="0" y="0" font-size="7.6" fill="#222222" text-anchor="middle" transform="translate(6.4,232.3) rotate(-90)"><tspan font-style="italic">P</tspan>(<tspan font-style="italic">λ</tspan>)</text>
<text x="0" y="0" font-size="7.6" fill="#222222" text-anchor="middle" transform="translate(6.4,396.7) rotate(-90)"><tspan font-style="italic">P</tspan>(<tspan font-style="italic">λ</tspan>)</text>
<text x="0" y="0" font-size="7.6" fill="#222222" text-anchor="middle" transform="translate(238.9,232.3) rotate(-90)"><tspan font-style="italic">P</tspan>(<tspan font-style="italic">λ</tspan>)</text>
<text x="0" y="0" font-size="7.6" fill="#222222" text-anchor="middle" transform="translate(238.9,396.7) rotate(-90)"><tspan font-style="italic">P</tspan>(<tspan font-style="italic">λ</tspan>)</text>
<text x="0" y="0" font-size="7.6" fill="#222222" text-anchor="middle" transform="translate(470.8,232.3) rotate(-90)"><tspan font-style="italic">P</tspan>(<tspan font-style="italic">λ</tspan>)</text>
<text x="0" y="0" font-size="7.6" fill="#222222" text-anchor="middle" transform="translate(470.8,396.7) rotate(-90)"><tspan font-style="italic">P</tspan>(<tspan font-style="italic">λ</tspan>)</text>
<text x="0" y="0" font-size="7.6" fill="#222222" text-anchor="middle" transform="translate(470.8,66.6) rotate(-90)"><tspan font-style="italic">P</tspan>(<tspan font-style="italic">λ</tspan>)</text>
<text x="125.6" y="315" font-size="7.6" fill="#222222" text-anchor="middle" ><tspan font-style="italic">λ</tspan></text>
<text x="366" y="315" font-size="7.6" fill="#222222" text-anchor="middle" ><tspan font-style="italic">λ</tspan></text>
<text x="603.7" y="315" font-size="7.6" fill="#222222" text-anchor="middle" ><tspan font-style="italic">λ</tspan></text>
<text x="125.3" y="478.5" font-size="7.6" fill="#222222" text-anchor="middle" ><tspan font-style="italic">λ</tspan></text>
<text x="367.4" y="479.3" font-size="7.6" fill="#222222" text-anchor="middle" ><tspan font-style="italic">λ</tspan></text>
<text x="604" y="478.8" font-size="7.6" fill="#222222" text-anchor="middle" ><tspan font-style="italic">λ</tspan></text>
<text x="589" y="148" font-size="7.6" fill="#222222" text-anchor="middle" ><tspan font-style="italic">λ</tspan> = <tspan font-style="italic">l</tspan>/<tspan font-style="italic">w</tspan></text>
<path d="M561 118.4H579V87.5H590.6V71.3H598.6V59H604.7V51.3H609.4V43.8H613.2V41.9H616.3V39.4H620V37.3L624 35.8L629 35L634 35.6L639 38.5L643 43L645.7 48.7L646.8 51.3L651.2 61.2" fill="none" stroke="#bcbcbc" stroke-width="0.85" stroke-linejoin="miter"/>
<path d="M494.5 26.4H561V32.3H579.8V36.7H590.7V38.8H598.6V41H604.4V43.5H610V44.4H613.2V45.4H617V44.6H620V45.8H624V46.3H627V47H632V46.4H636V46.8H641.3L643.5 48.2L646.8 51.3L649 55.5L651.2 61.2L653.5 68L655.6 75.5L657.3 80.5L658.9 86.4L660 93L661.1 99.6L662.3 106L663.3 112.8L664.2 118.5L665 124.8" fill="none" stroke="#14adad" stroke-width="1.6" stroke-linejoin="miter"/>
<path d="M623.8 19.4H633.8" stroke="#8a8a8a" stroke-width="1"/>
<path d="M623.8 28.8H633.8" stroke="#19a9a9" stroke-width="1.8"/>
<text x="638.2" y="22.2" font-size="7.9" fill="#222222" >Steiner</text>
<text x="638.2" y="31.6" font-size="7.9" fill="#222222" >Manifold</text>
<text x="499.7" y="48.3" font-size="7.6" fill="#222222"><tspan font-style="italic">P</tspan>(<tspan font-style="italic">λ</tspan></text>
<path d="M513.09 46.32H520.08M518.48 45.22L520.08 46.32L518.48 47.42" stroke="#222222" stroke-width="0.55" fill="none"/>
<text x="522.36" y="48.3" font-size="7.6" fill="#222222">0) &gt; 0</text>
<path d="M530 52.3L503.4 52.3" stroke="#19a9a9" stroke-width="1.1" fill="none"/>
<path d="M499.9 52.3L503.9 50.4L503.9 54.2Z" fill="#19a9a9"/>
<text x="605.6" y="102.2" font-size="7.7" fill="#222222" >Steiner:</text>
<text x="605.6" y="114.3" font-size="7.6" fill="#222222"><tspan font-style="italic">P</tspan>(<tspan font-style="italic">λ</tspan></text>
<path d="M618.99 112.32H625.98M624.38 111.22L625.98 112.32L624.38 113.42" stroke="#222222" stroke-width="0.55" fill="none"/>
<text x="628.26" y="114.3" font-size="7.6" fill="#222222">0) = 0</text>
<path d="M602.3 95L594.73 117.29" stroke="#222" stroke-width="0.7" fill="none"/>
<path d="M593.6 120.6L593.47 116.33L596.31 117.3Z" fill="#222"/>
<path d="M115.2 291H115.2V275.7H133.5V257.3H144.3V241H152.3V230.2H158.4V225.4H163.5V221.4H167.5V219.2L170.9 217.9L177.6 216.5L185.8 217.5L192.6 220.6L199.3 226L204.8 233.5L208.8 239.6L213.6 248.4L217 256.6L219.7 264.7" fill="none" stroke="#b4b4b4" stroke-width="0.8" stroke-linejoin="miter"/>
<path d="M30.8 221.1H115.2V214.7H133.5V212.4H144.3V211.5H158.4V212.2H163.5V214.1H167.3V216.2L171.5 217.9L177.6 222L187.1 227.4L196.6 234.9L204.8 242.3L212.9 249.8L219.7 259.3" fill="none" stroke="#ddd2d8" stroke-width="1.4" stroke-linejoin="miter"/>
<path d="M342.9 287.4H353.4V257.3H361.3V246.1H367.3V234.4H372.3V228.2H376.3V229.8H382.6V227.8H385.1V223.5H388.2V221.9V222.12H389.27V222.13H390.45V221.78H391.59V220.69H392.31V220.73H393.58V219.3H394.82V219.02H395.8V219.2H396.83V217.99H397.53V219.15H398.4V216.92H399.56V216.26H400.74V215.64H401.81V217.06H402.51V215H403.34V216.27H404.63V216.44H405.5V215.58H406.52V216.26H407.35V216.27H408.46V214.18H409.7V213.65H410.61V213.23H411.4V214.85H412.28V215.03H412.98V213.94H413.89V215.03H415.08V215.55H415.97V214.55H417.09V215H418.38V218.6H419.53V218.88H420.24V218.5H421.16V216.84H421.86V220.77H422.67V220.52H423.49V222.01H424.75V220.37H425.65V222.79H426.67V223.31H427.43V224.47H428.61V225.54H429.33V223.38H430.09V226.6H431.15V227.34H432.06V225.4H433.08V225.71H433.97V226.37H434.72V231.38H435.83V227.72H436.63V231.14H437.92V230.77H438.87V234.76H439.92V234.05H440.9V237.78H441.63V236.53H442.35V235.88H443.55V241.87H444.69V242.75H445.77V243H446.53V247.19H447.32V246.97H448.2V251.89H449.5V255.13H450.79V265.05H451.6V287.5" fill="none" stroke="#cdcdcd" stroke-width="0.85" stroke-linejoin="miter"/>
<path d="M262.5 207.4H324.1V211.9H342.5V207.8H353.5V204.4H361.3V203.5H367.3V206.6H376.3V209.8H380.1V211.9H383.2V214.1H385.7V216.3H388.2V212.5H393V221H396.6V215.7H398.8V216.05H399.67V216.31H400.8V217.13H401.71V217.39H402.44V219H403.41V218.19H404.09V220.47H404.77V218.57H405.77V222.82H406.93V222.51H407.92V220.84H408.63V221.68H409.55V222.98H410.28V224.35H410.92V226.54H411.79V226.16H412.7V226.84H413.6V225.44H414.48V229.78H415.65V228.98H416.73V226.88H417.53V226.38H418.32V228.83H419.36V229.36H420.45V232.92H421.6V229.35H422.23V231.58H423.35V231.75H424.51V233.92H425.18V231.86H426.23V232.79H426.9V236.51H428.06V233.24H428.75V232.44H429.43V234.2H430.49V237.33H431.43V240.52H432.16V240.53H432.86V239.33H433.55V238.72H434.3V244.36H435.45V255.5H436.25V242.44H436.99V245.66H438.08V249.89H438.77V243.6H439.51V245.16H440.56V243.49H441.35V249.33H442.03V250.25H442.79V262H443.62V251.16H444.77V256.67H445.71V250.07H446.44V270.5H447.56V252.85H448.32V262.64H449.35V262H450.09V264.89H451.19V261.49H451.6" fill="none" stroke="#a09e88" stroke-width="1.65" stroke-linejoin="miter"/>
<path d="M589.2 247.3H600.4V234.4H607.9V216.3H614V207.4H618.6V206.8H623.2V205.9H626.3V201.3H631.8V200.5H632.9V202.5H639.8L641.8 206L644.5 209.8L648.7 217.1L651.8 227.6L656 242.2L659.1 252.6L660.5 262L661.2 269.3V279.8H665.4" fill="none" stroke="#c0c0c0" stroke-width="0.85" stroke-linejoin="miter"/>
<path d="M494.5 209H570.3V207.3H589.2V203.3H600.2V202.7H608.2V203.9H613.4V202.5H622.6V203H626V207.6H632.4V213.2H639.3V216.5H641.6V219.1H644.4V223H646V226.5H647.6V230H649.2V233.8H650.8V237.5H652.3V241.1H653.9V244H655.5V246.4H657V250.5H658V254.7H659.1V258.3H660.6V262H662.2V265.6H663.3V269.3H664.6V262H666V279.8H667.3V262.5H668.6V279.8H670V266H671.3V279.8" fill="none" stroke="#d8a89c" stroke-width="1.25" stroke-linejoin="miter"/>
<path d="M115.2 427.3H133.4V387.7H144.6V378.3H152.6V375.3H158.3V373.5H170.3V376H173.9V377.4H179.2V381.75H180.32V382.19H181.83V383.81H182.99V384.08H184.65V384.03H186.06V384.72H187.04V384.14H188.51V385.03H190.16V384.79H191.33V389.91H193.15V392.63H194.87V393.79H195.87V394.22H197.27V397.06H199.05V400.75H200.16V402.56H201.25V402.14H202.61V402.84H203.88V401.26H205.01V403.21H206.72V404.1H208.36V409.78H210.15V410.77H211.76V412.16H213.23V413.97H214.31V430H215.99V444H216.5V444" fill="none" stroke="#c4c4c4" stroke-width="0.9" stroke-linejoin="miter"/>
<path d="M30.8 353.4H115.2V388.1H133.4V383.6H144.6V381.5H152.6V383.3H158.3V380.1H167.1V384.9H171.2V381.9H173.5V390.7H177.1V385.4H178.9V392.5H181.5V389.5H184.5V389.8H185.5V397.8H187.5V390H190.7V391.6H192.2V403.2H195.5V400H198.7V402.3H200.8V427.1H202V400H203.2V399.6H204.8V416.5H206.5V409.4H208.5V411H210.5V427.1H212V416.5H213.8V420H215.5V434.2H217.5V414.7H219.3" fill="none" stroke="#f8bb82" stroke-width="1.6" stroke-linejoin="miter"/>
<path d="M331.9 407.4H339.4V400.3H351V389.6H358.1V387H364.3V381.6H373.2V375.4H377.6V371.9H381.2V369.2H386.5V367.8H391.8V365.7H394.5V363H397.5V365.5H399.8V366.5H402.5V368.5H405.1V369.2H407.5V373H409.6V376.3H411.5V379.5H413.1V381.6H414.5V385.5H415.8V388.7H417V393H418.4V397.6H420.2V402H422V406.5H423.3V411H424.6V415.4H426V421H427.3V427.8H429V437.5H431.5V427H433V437.5" fill="none" stroke="#c4c4c4" stroke-width="0.9" stroke-linejoin="miter"/>
<path d="M262.5 363.4H321V364.4H339.4V367.8H350.6V365.7H364.3V363.3H369.6V365.3H373.2V367.1H377.3V363.9H383.8V366H386.5V367.8H390V369.5H392V371H394.5V372.5H397.1V374.2H399.5V375.6H401.6V377.2H403V383.4H405.5V380.5H407.8V381.6H408.8V389.6H411V386.5H413.1V388.7H414V395.8H416V394H417.5V400H418.5V404.7H420V410H421.1V416.2H425.5V412H426.4V437.5H427.6V416.2H429.1V419.8H430.5" fill="none" stroke="#8490c0" stroke-width="1.4" stroke-linejoin="miter"/>
<path d="M431.8 437.5h1.2M437.6 426.9V437.5h2.5M441.5 437.5h1M444.5 437.5h1M447.5 437.5h1" stroke="#8490c0" stroke-width="1.3" fill="none"/>
<path d="M575.3 405H593.4V388.4H604.6V378.1H612.6V376.3H618.3V384.3H623.2V386.1H628.6V383.7H633V387H635.7V378.1H638.3V390.17H639.86V389.45H641.65V391.85H643.29V389.82H645.15V391.77H646.79V393.11H648.29V390.9H649.82V391.53H651.72V389.93H653.04V388.57H654.54V391.55H656.13V391.2H657.57V388.73H659.45V385.31H661.11V389.14H662.21V385.11H663.52V389.94H665.38V389.1H666.54V390.13H667.81V392.97H668.86V393.37H670.19V391.99H671.4V397.45H672.48V395.9H674.21V393.6H675.37V395.19H676.52V395.87H677.63V396.85H678.86V400.77H680.5V402.15H681.97V407.54H683.51V403H683.6" fill="none" stroke="#c4c4c4" stroke-width="0.9" stroke-linejoin="miter"/>
<path d="M494.5 371.3H575.3V372.4H593.4V367.4H604.6V377.5H612.6V378.6H618.3V371.5H623.2V374.2H627.1V377.2H633.9V380.7H636.5V384.3H640.1V391.4H641.9V387H644.5V388.7H648.1V398.5H649.9V392.3H653.4V387H656.1V404.7H657V397.6H658.7V401.1H662.3V404H664.5V421.5H666.7V410H667.6V413.6H670.3V433.1H672V400.3H672.9V421.5H675.6V413.6H678.3V433.1H680.9V408.2H682.7" fill="none" stroke="#b8d296" stroke-width="1.4" stroke-linejoin="miter"/>
</svg></body></html>
